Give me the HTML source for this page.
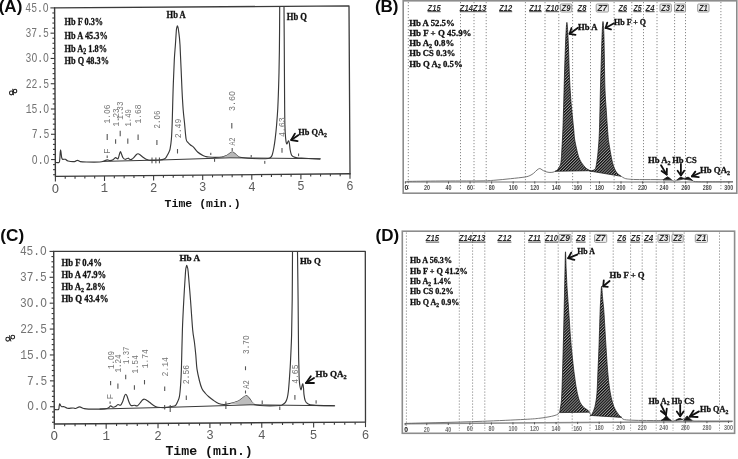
<!DOCTYPE html>
<html><head><meta charset="utf-8"><style>
html,body{margin:0;padding:0;background:#fff;}
svg{display:block;filter:blur(0.35px);}
</style></head><body>
<svg width="738" height="459" viewBox="0 0 738 459">
<defs><pattern id="hatch" patternUnits="userSpaceOnUse" width="2.05" height="8" patternTransform="rotate(45)"><rect width="2.05" height="8" fill="#9c9c9c"/><rect width="1.12" height="8" fill="#0a0a0a"/></pattern></defs>
<rect width="738" height="459" fill="#fff"/>
<path d="M54.6,7.9 L349,5.9 L350,173.8" stroke="#3a3a3a" stroke-width="1.3" fill="none" stroke-linejoin="round" stroke-linecap="round" />
<path d="M54.6,7.9 L55.4,176.4 L350,173.8" stroke="#3a3a3a" stroke-width="1.4" fill="none" stroke-linejoin="round" stroke-linecap="round" />
<line x1="53.09" y1="174.72" x2="55.39" y2="174.72" stroke="#3a3a3a" stroke-width="1.1" />
<line x1="53.07" y1="169.66" x2="55.37" y2="169.66" stroke="#3a3a3a" stroke-width="1.1" />
<line x1="53.04" y1="164.61" x2="55.34" y2="164.61" stroke="#3a3a3a" stroke-width="1.1" />
<line x1="51.12" y1="159.55" x2="55.32" y2="159.55" stroke="#3a3a3a" stroke-width="1.1" />
<line x1="53" y1="154.5" x2="55.3" y2="154.5" stroke="#3a3a3a" stroke-width="1.1" />
<line x1="52.97" y1="149.44" x2="55.27" y2="149.44" stroke="#3a3a3a" stroke-width="1.1" />
<line x1="52.95" y1="144.39" x2="55.25" y2="144.39" stroke="#3a3a3a" stroke-width="1.1" />
<line x1="52.92" y1="139.33" x2="55.22" y2="139.33" stroke="#3a3a3a" stroke-width="1.1" />
<line x1="51" y1="134.28" x2="55.2" y2="134.28" stroke="#3a3a3a" stroke-width="1.1" />
<line x1="52.88" y1="129.22" x2="55.18" y2="129.22" stroke="#3a3a3a" stroke-width="1.1" />
<line x1="52.85" y1="124.16" x2="55.15" y2="124.16" stroke="#3a3a3a" stroke-width="1.1" />
<line x1="52.83" y1="119.11" x2="55.13" y2="119.11" stroke="#3a3a3a" stroke-width="1.1" />
<line x1="52.8" y1="114.06" x2="55.1" y2="114.06" stroke="#3a3a3a" stroke-width="1.1" />
<line x1="50.88" y1="109" x2="55.08" y2="109" stroke="#3a3a3a" stroke-width="1.1" />
<line x1="52.76" y1="103.94" x2="55.06" y2="103.94" stroke="#3a3a3a" stroke-width="1.1" />
<line x1="52.73" y1="98.89" x2="55.03" y2="98.89" stroke="#3a3a3a" stroke-width="1.1" />
<line x1="52.71" y1="93.83" x2="55.01" y2="93.83" stroke="#3a3a3a" stroke-width="1.1" />
<line x1="52.68" y1="88.78" x2="54.98" y2="88.78" stroke="#3a3a3a" stroke-width="1.1" />
<line x1="50.76" y1="83.73" x2="54.96" y2="83.73" stroke="#3a3a3a" stroke-width="1.1" />
<line x1="52.64" y1="78.67" x2="54.94" y2="78.67" stroke="#3a3a3a" stroke-width="1.1" />
<line x1="52.61" y1="73.62" x2="54.91" y2="73.62" stroke="#3a3a3a" stroke-width="1.1" />
<line x1="52.59" y1="68.56" x2="54.89" y2="68.56" stroke="#3a3a3a" stroke-width="1.1" />
<line x1="52.56" y1="63.51" x2="54.86" y2="63.51" stroke="#3a3a3a" stroke-width="1.1" />
<line x1="50.64" y1="58.45" x2="54.84" y2="58.45" stroke="#3a3a3a" stroke-width="1.1" />
<line x1="52.52" y1="53.4" x2="54.82" y2="53.4" stroke="#3a3a3a" stroke-width="1.1" />
<line x1="52.49" y1="48.34" x2="54.79" y2="48.34" stroke="#3a3a3a" stroke-width="1.1" />
<line x1="52.47" y1="43.28" x2="54.77" y2="43.28" stroke="#3a3a3a" stroke-width="1.1" />
<line x1="52.44" y1="38.23" x2="54.74" y2="38.23" stroke="#3a3a3a" stroke-width="1.1" />
<line x1="50.52" y1="33.17" x2="54.72" y2="33.17" stroke="#3a3a3a" stroke-width="1.1" />
<line x1="52.4" y1="28.12" x2="54.7" y2="28.12" stroke="#3a3a3a" stroke-width="1.1" />
<line x1="52.37" y1="23.07" x2="54.67" y2="23.07" stroke="#3a3a3a" stroke-width="1.1" />
<line x1="52.35" y1="18.01" x2="54.65" y2="18.01" stroke="#3a3a3a" stroke-width="1.1" />
<line x1="52.32" y1="12.96" x2="54.62" y2="12.96" stroke="#3a3a3a" stroke-width="1.1" />
<line x1="50.4" y1="7.9" x2="54.6" y2="7.9" stroke="#3a3a3a" stroke-width="1.1" />
<line x1="55.4" y1="176.4" x2="55.4" y2="181.4" stroke="#3a3a3a" stroke-width="1.1" />
<line x1="65.22" y1="176.31" x2="65.22" y2="178.71" stroke="#3a3a3a" stroke-width="1.1" />
<line x1="75.04" y1="176.23" x2="75.04" y2="178.63" stroke="#3a3a3a" stroke-width="1.1" />
<line x1="84.86" y1="176.14" x2="84.86" y2="178.54" stroke="#3a3a3a" stroke-width="1.1" />
<line x1="94.68" y1="176.05" x2="94.68" y2="178.45" stroke="#3a3a3a" stroke-width="1.1" />
<line x1="104.5" y1="175.97" x2="104.5" y2="180.97" stroke="#3a3a3a" stroke-width="1.1" />
<line x1="114.32" y1="175.88" x2="114.32" y2="178.28" stroke="#3a3a3a" stroke-width="1.1" />
<line x1="124.14" y1="175.79" x2="124.14" y2="178.19" stroke="#3a3a3a" stroke-width="1.1" />
<line x1="133.96" y1="175.71" x2="133.96" y2="178.11" stroke="#3a3a3a" stroke-width="1.1" />
<line x1="143.78" y1="175.62" x2="143.78" y2="178.02" stroke="#3a3a3a" stroke-width="1.1" />
<line x1="153.6" y1="175.53" x2="153.6" y2="180.53" stroke="#3a3a3a" stroke-width="1.1" />
<line x1="163.42" y1="175.45" x2="163.42" y2="177.85" stroke="#3a3a3a" stroke-width="1.1" />
<line x1="173.24" y1="175.36" x2="173.24" y2="177.76" stroke="#3a3a3a" stroke-width="1.1" />
<line x1="183.06" y1="175.27" x2="183.06" y2="177.67" stroke="#3a3a3a" stroke-width="1.1" />
<line x1="192.88" y1="175.19" x2="192.88" y2="177.59" stroke="#3a3a3a" stroke-width="1.1" />
<line x1="202.7" y1="175.1" x2="202.7" y2="180.1" stroke="#3a3a3a" stroke-width="1.1" />
<line x1="212.52" y1="175.01" x2="212.52" y2="177.41" stroke="#3a3a3a" stroke-width="1.1" />
<line x1="222.34" y1="174.93" x2="222.34" y2="177.33" stroke="#3a3a3a" stroke-width="1.1" />
<line x1="232.16" y1="174.84" x2="232.16" y2="177.24" stroke="#3a3a3a" stroke-width="1.1" />
<line x1="241.98" y1="174.75" x2="241.98" y2="177.15" stroke="#3a3a3a" stroke-width="1.1" />
<line x1="251.8" y1="174.67" x2="251.8" y2="179.67" stroke="#3a3a3a" stroke-width="1.1" />
<line x1="261.62" y1="174.58" x2="261.62" y2="176.98" stroke="#3a3a3a" stroke-width="1.1" />
<line x1="271.44" y1="174.49" x2="271.44" y2="176.89" stroke="#3a3a3a" stroke-width="1.1" />
<line x1="281.26" y1="174.41" x2="281.26" y2="176.81" stroke="#3a3a3a" stroke-width="1.1" />
<line x1="291.08" y1="174.32" x2="291.08" y2="176.72" stroke="#3a3a3a" stroke-width="1.1" />
<line x1="300.9" y1="174.23" x2="300.9" y2="179.23" stroke="#3a3a3a" stroke-width="1.1" />
<line x1="310.72" y1="174.15" x2="310.72" y2="176.55" stroke="#3a3a3a" stroke-width="1.1" />
<line x1="320.54" y1="174.06" x2="320.54" y2="176.46" stroke="#3a3a3a" stroke-width="1.1" />
<line x1="330.36" y1="173.97" x2="330.36" y2="176.37" stroke="#3a3a3a" stroke-width="1.1" />
<line x1="340.18" y1="173.89" x2="340.18" y2="176.29" stroke="#3a3a3a" stroke-width="1.1" />
<line x1="350" y1="173.8" x2="350" y2="178.8" stroke="#3a3a3a" stroke-width="1.1" />
<text x="48.7" y="11.9" font-family="'Liberation Mono', monospace" font-size="13" font-weight="normal" fill="#747474" text-anchor="end" textLength="23.4" lengthAdjust="spacingAndGlyphs" >45.O</text>
<text x="48.82" y="37.17" font-family="'Liberation Mono', monospace" font-size="13" font-weight="normal" fill="#747474" text-anchor="end" textLength="23.4" lengthAdjust="spacingAndGlyphs" >37.5</text>
<text x="48.94" y="62.45" font-family="'Liberation Mono', monospace" font-size="13" font-weight="normal" fill="#747474" text-anchor="end" textLength="23.4" lengthAdjust="spacingAndGlyphs" >3O.O</text>
<text x="49.06" y="87.73" font-family="'Liberation Mono', monospace" font-size="13" font-weight="normal" fill="#747474" text-anchor="end" textLength="23.4" lengthAdjust="spacingAndGlyphs" >22.5</text>
<text x="49.18" y="113" font-family="'Liberation Mono', monospace" font-size="13" font-weight="normal" fill="#747474" text-anchor="end" textLength="23.4" lengthAdjust="spacingAndGlyphs" >15.O</text>
<text x="49.3" y="138.28" font-family="'Liberation Mono', monospace" font-size="13" font-weight="normal" fill="#747474" text-anchor="end" textLength="17.55" lengthAdjust="spacingAndGlyphs" >7.5</text>
<text x="49.42" y="163.55" font-family="'Liberation Mono', monospace" font-size="13" font-weight="normal" fill="#747474" text-anchor="end" textLength="17.55" lengthAdjust="spacingAndGlyphs" >O.O</text>
<text x="55.4" y="192.5" font-family="'Liberation Mono', monospace" font-size="12.2" font-weight="normal" fill="#5c5c5c" text-anchor="middle" >O</text>
<text x="104.5" y="192.07" font-family="'Liberation Mono', monospace" font-size="12.2" font-weight="normal" fill="#5c5c5c" text-anchor="middle" >1</text>
<text x="153.6" y="191.63" font-family="'Liberation Mono', monospace" font-size="12.2" font-weight="normal" fill="#5c5c5c" text-anchor="middle" >2</text>
<text x="202.7" y="191.2" font-family="'Liberation Mono', monospace" font-size="12.2" font-weight="normal" fill="#5c5c5c" text-anchor="middle" >3</text>
<text x="251.8" y="190.77" font-family="'Liberation Mono', monospace" font-size="12.2" font-weight="normal" fill="#5c5c5c" text-anchor="middle" >4</text>
<text x="300.9" y="190.33" font-family="'Liberation Mono', monospace" font-size="12.2" font-weight="normal" fill="#5c5c5c" text-anchor="middle" >5</text>
<text x="350" y="189.9" font-family="'Liberation Mono', monospace" font-size="12.2" font-weight="normal" fill="#5c5c5c" text-anchor="middle" >6</text>
<text x="164.6" y="206.9" font-family="'Liberation Mono', monospace" font-size="11.5" font-weight="bold" fill="#111" text-anchor="start" textLength="76" lengthAdjust="spacingAndGlyphs" >Time (min.)</text>
<ellipse cx="11.2" cy="92.9" rx="1.7" ry="1.95" fill="none" stroke="#1e1e1e" stroke-width="1.05"/>
<ellipse cx="15.1" cy="91.1" rx="1.7" ry="1.8" fill="none" stroke="#1e1e1e" stroke-width="1.05"/>
<line x1="12.7" y1="88.8" x2="13.5" y2="95.2" stroke="#1e1e1e" stroke-width="1.0" />
<text x="64.6" y="25.2" font-family="'Liberation Serif', serif" font-size="10.5" font-weight="bold" fill="#111" text-anchor="start" textLength="38.5" lengthAdjust="spacingAndGlyphs"  stroke="#111" stroke-width="0.3">Hb F 0.3%</text>
<text x="64.6" y="38.7" font-family="'Liberation Serif', serif" font-size="10.5" font-weight="bold" fill="#111" text-anchor="start" textLength="43.1" lengthAdjust="spacingAndGlyphs"  stroke="#111" stroke-width="0.3">Hb A 45.3%</text>
<text x="64.6" y="51.9" font-family="'Liberation Serif', serif" font-size="10.5" font-weight="bold" fill="#111" text-anchor="start" textLength="42.4" lengthAdjust="spacingAndGlyphs"  stroke="#111" stroke-width="0.3">Hb A<tspan font-size="7.35" dy="2.31">2</tspan><tspan dy="-2.31"> 1.8%</tspan></text>
<text x="64.6" y="64.3" font-family="'Liberation Serif', serif" font-size="10.5" font-weight="bold" fill="#111" text-anchor="start" textLength="44.4" lengthAdjust="spacingAndGlyphs"  stroke="#111" stroke-width="0.3">Hb Q 48.3%</text>
<path d="M55.5,162.4 C56.03,162.43 58.02,162.83 58.7,162.6 C59.38,162.37 59.35,162.6 59.6,161 C59.85,159.4 60.03,154.88 60.2,153 C60.37,151.12 60.45,149.7 60.6,149.7 C60.75,149.7 60.93,151.77 61.1,153 C61.27,154.23 61.37,156.07 61.6,157.1 C61.83,158.13 61.87,158.83 62.5,159.2 C63.13,159.57 64.48,159 65.4,159.3 C66.32,159.6 66.5,160.62 68,161 C69.5,161.38 72.83,161.72 74.4,161.6 C75.97,161.48 76.42,160.3 77.4,160.3 C78.38,160.3 78.82,161.32 80.3,161.6 C81.78,161.88 83.07,161.93 86.3,162 C89.53,162.07 96.85,162.12 99.7,162 C102.55,161.88 102.15,161.65 103.4,161.3 C104.65,160.95 106.1,160.02 107.2,159.9 C108.3,159.78 109.03,160.62 110,160.6 C110.97,160.58 112.08,160.3 113,159.8 C113.92,159.3 114.67,157.77 115.5,157.6 C116.33,157.43 117.33,159.4 118,158.8 C118.67,158.2 119.08,155.22 119.5,154 C119.92,152.78 120.17,151.5 120.5,151.5 C120.83,151.5 121.08,152.95 121.5,154 C121.92,155.05 122.42,156.92 123,157.8 C123.58,158.68 124.17,159.23 125,159.3 C125.83,159.37 127.25,158.22 128,158.2 C128.75,158.18 128.92,159 129.5,159.2 C130.08,159.4 130.75,159.72 131.5,159.4 C132.25,159.08 133.17,158.12 134,157.3 C134.83,156.48 135.83,155.08 136.5,154.5 C137.17,153.92 137.42,153.75 138,153.8 C138.58,153.85 139.17,154.23 140,154.8 C140.83,155.37 142,156.47 143,157.2 C144,157.93 145,158.7 146,159.2 C147,159.7 147.5,160.02 149,160.2 C150.5,160.38 153.17,160.33 155,160.3 C156.83,160.27 158.62,160.15 160,160 C161.38,159.85 162.38,159.7 163.3,159.4 C164.22,159.1 164.83,158.88 165.5,158.2 C166.17,157.52 166.72,156.33 167.3,155.3 C167.88,154.27 168.53,153.08 169,152 C169.47,150.92 169.7,150.97 170.1,148.8 C170.5,146.63 171.05,143.35 171.4,139 C171.75,134.65 171.92,130.87 172.2,122.7 C172.48,114.53 172.75,100.45 173.1,90 C173.45,79.55 173.92,67.53 174.3,60 C174.68,52.47 175.07,49.63 175.4,44.8 C175.73,39.97 176.07,33.88 176.3,31 C176.53,28.12 176.62,28.35 176.8,27.5 C176.98,26.65 177.2,25.9 177.4,25.9 C177.6,25.9 177.8,26.65 178,27.5 C178.2,28.35 178.27,28.12 178.6,31 C178.93,33.88 179.43,34.97 180,44.8 C180.57,54.63 181.47,79.13 182,90 C182.53,100.87 182.78,104.55 183.2,110 C183.62,115.45 184.02,117.87 184.5,122.7 C184.98,127.53 185.52,135.7 186.1,139 C186.68,142.3 187.27,141.5 188,142.5 C188.73,143.5 189.58,144.23 190.5,145 C191.42,145.77 192.32,145.93 193.5,147.1 C194.68,148.27 196.03,150.6 197.6,152 C199.17,153.4 201.5,154.73 202.9,155.5 C204.3,156.27 205.02,156.35 206,156.6 C206.98,156.85 207.3,156.88 208.8,157 C210.3,157.12 212.8,157.3 215,157.3 C217.2,157.3 220.17,157.25 222,157 C223.83,156.75 224.83,156.3 226,155.8 C227.17,155.3 227.97,154.62 229,154 C230.03,153.38 231.2,152.13 232.2,152.1 C233.2,152.07 234.12,153.15 235,153.8 C235.88,154.45 236.67,155.42 237.5,156 C238.33,156.58 238.25,156.92 240,157.3 C241.75,157.68 244.67,158.07 248,158.3 C251.33,158.53 256.67,158.67 260,158.7 C263.33,158.73 266.25,158.7 268,158.5 C269.75,158.3 269.8,158.08 270.5,157.5 C271.2,156.92 271.65,156.58 272.2,155 C272.75,153.42 273.3,150.73 273.8,148 C274.3,145.27 274.73,142.43 275.2,138.6 C275.67,134.77 276.17,130.1 276.6,125 C277.03,119.9 277.43,115.5 277.8,108 C278.17,100.5 278.53,89.67 278.8,80 C279.07,70.33 279.25,62.23 279.4,50 C279.55,37.77 279.65,13.83 279.7,6.6" stroke="#383838" stroke-width="1.15" fill="none" stroke-linejoin="round" />
<path d="M284,6.4 C284.05,13.67 284.2,34.4 284.3,50 C284.4,65.6 284.5,87.5 284.6,100 C284.7,112.5 284.73,118.67 284.9,125 C285.07,131.33 285.32,134.87 285.6,138 C285.88,141.13 286.27,143.05 286.6,143.8 C286.93,144.55 287.27,143 287.6,142.5 C287.93,142 288.3,140.63 288.6,140.8 C288.9,140.97 289.13,141.97 289.4,143.5 C289.67,145.03 289.85,148.08 290.2,150 C290.55,151.92 290.95,153.87 291.5,155 C292.05,156.13 292.58,156.33 293.5,156.8 C294.42,157.27 295.08,157.55 297,157.8 C298.92,158.05 301.12,158.07 305,158.3 C308.88,158.53 317.75,159.05 320.3,159.2" stroke="#383838" stroke-width="1.15" fill="none" stroke-linejoin="round" />
<path d="M222,157.2 C222.67,156.97 224.83,156.33 226,155.8 C227.17,155.27 227.97,154.62 229,154 C230.03,153.38 231.2,152.13 232.2,152.1 C233.2,152.07 234.12,153.15 235,153.8 C235.88,154.45 236.67,155.4 237.5,156 C238.33,156.6 241.08,157.13 240,157.4 C238.92,157.67 232.5,157.57 231,157.6 Z" stroke="none" stroke-width="0" fill="#b8b8b8" stroke-linejoin="round" />
<path d="M103,161.4 L160,160 L230,157.8 L320.3,158.7" stroke="#383838" stroke-width="1.0" fill="none" stroke-linejoin="round" stroke-linecap="round" />
<line x1="152" y1="157.5" x2="152" y2="163.3" stroke="#444" stroke-width="1.0" />
<line x1="155.9" y1="157.5" x2="155.9" y2="163.3" stroke="#444" stroke-width="1.0" />
<line x1="159.4" y1="157.5" x2="159.4" y2="163.3" stroke="#444" stroke-width="1.0" />
<line x1="210.8" y1="152.8" x2="210.8" y2="155" stroke="#444" stroke-width="1.0" />
<line x1="214.6" y1="158.9" x2="214.6" y2="161.8" stroke="#444" stroke-width="1.0" />
<line x1="251.2" y1="155" x2="251.2" y2="157.4" stroke="#444" stroke-width="1.0" />
<line x1="264.8" y1="160.9" x2="264.8" y2="163.8" stroke="#444" stroke-width="1.0" />
<line x1="298.6" y1="153.5" x2="298.6" y2="156.2" stroke="#444" stroke-width="1.0" />
<text x="110.26" y="114.05" font-family="'Liberation Mono', monospace" font-size="8.5" font-weight="normal" fill="#747474" text-anchor="middle" textLength="19.1" lengthAdjust="spacingAndGlyphs" transform="rotate(-90 110.26 114.05)" >1.O6</text>
<line x1="107.2" y1="133.9" x2="107.2" y2="140" stroke="#555" stroke-width="1.1" />
<text x="118.66" y="117.45" font-family="'Liberation Mono', monospace" font-size="8.5" font-weight="normal" fill="#747474" text-anchor="middle" textLength="18.3" lengthAdjust="spacingAndGlyphs" transform="rotate(-90 118.66 117.45)" >1.23</text>
<line x1="115.6" y1="139.2" x2="115.6" y2="143.8" stroke="#555" stroke-width="1.1" />
<text x="123.26" y="110.65" font-family="'Liberation Mono', monospace" font-size="8.5" font-weight="normal" fill="#747474" text-anchor="middle" textLength="18.3" lengthAdjust="spacingAndGlyphs" transform="rotate(-90 123.26 110.65)" >1.33</text>
<line x1="120.2" y1="130.8" x2="120.2" y2="136.2" stroke="#555" stroke-width="1.1" />
<text x="130.86" y="117.85" font-family="'Liberation Mono', monospace" font-size="8.5" font-weight="normal" fill="#747474" text-anchor="middle" textLength="17.5" lengthAdjust="spacingAndGlyphs" transform="rotate(-90 130.86 117.85)" >1.49</text>
<line x1="127.8" y1="138.4" x2="127.8" y2="143.8" stroke="#555" stroke-width="1.1" />
<text x="141.16" y="114.05" font-family="'Liberation Mono', monospace" font-size="8.5" font-weight="normal" fill="#747474" text-anchor="middle" textLength="19.1" lengthAdjust="spacingAndGlyphs" transform="rotate(-90 141.16 114.05)" >1.68</text>
<line x1="138.1" y1="134.6" x2="138.1" y2="140" stroke="#555" stroke-width="1.1" />
<text x="159.96" y="119.5" font-family="'Liberation Mono', monospace" font-size="8.5" font-weight="normal" fill="#747474" text-anchor="middle" textLength="17.8" lengthAdjust="spacingAndGlyphs" transform="rotate(-90 159.96 119.5)" >2.O6</text>
<line x1="156.9" y1="140" x2="156.9" y2="145" stroke="#555" stroke-width="1.1" />
<text x="180.56" y="128.4" font-family="'Liberation Mono', monospace" font-size="8.5" font-weight="normal" fill="#747474" text-anchor="middle" textLength="19.6" lengthAdjust="spacingAndGlyphs" transform="rotate(-90 180.56 128.4)" >2.49</text>
<line x1="177.5" y1="149" x2="177.5" y2="153.5" stroke="#555" stroke-width="1.1" />
<text x="234.86" y="101.05" font-family="'Liberation Mono', monospace" font-size="8.5" font-weight="normal" fill="#747474" text-anchor="middle" textLength="20.1" lengthAdjust="spacingAndGlyphs" transform="rotate(-90 234.86 101.05)" >3.6O</text>
<line x1="231.8" y1="123" x2="231.8" y2="128.5" stroke="#555" stroke-width="1.1" />
<text x="285.06" y="127.15" font-family="'Liberation Mono', monospace" font-size="8.5" font-weight="normal" fill="#747474" text-anchor="middle" textLength="19.9" lengthAdjust="spacingAndGlyphs" transform="rotate(-90 285.06 127.15)" >4.63</text>
<line x1="282" y1="148" x2="282" y2="152.8" stroke="#555" stroke-width="1.1" />
<text x="235.26" y="141.6" font-family="'Liberation Mono', monospace" font-size="8.5" font-weight="normal" fill="#747474" text-anchor="middle" textLength="8" lengthAdjust="spacingAndGlyphs" transform="rotate(-90 235.26 141.6)" >A2</text>
<line x1="232.2" y1="148" x2="232.2" y2="151" stroke="#555" stroke-width="1.1" />
<text x="110.26" y="151.1" font-family="'Liberation Mono', monospace" font-size="8.5" font-weight="normal" fill="#747474" text-anchor="middle" textLength="5.8" lengthAdjust="spacingAndGlyphs" transform="rotate(-90 110.26 151.1)" >F</text>
<line x1="107.2" y1="155.6" x2="107.2" y2="158" stroke="#555" stroke-width="1.1" />
<text x="166.5" y="18.4" font-family="'Liberation Serif', serif" font-size="9.5" font-weight="bold" fill="#111" text-anchor="start" textLength="19.2" lengthAdjust="spacingAndGlyphs"  stroke="#111" stroke-width="0.3">Hb A</text>
<text x="286.8" y="20.3" font-family="'Liberation Serif', serif" font-size="9.5" font-weight="bold" fill="#111" text-anchor="start" textLength="20.2" lengthAdjust="spacingAndGlyphs"  stroke="#111" stroke-width="0.3">Hb Q</text>
<text x="298.3" y="134.8" font-family="'Liberation Serif', serif" font-size="9.1" font-weight="bold" fill="#111" text-anchor="start" textLength="28.6" lengthAdjust="spacingAndGlyphs"  stroke="#111" stroke-width="0.3">Hb QA<tspan font-size="6.3" dy="2.1">2</tspan></text>
<path d="M298.2,135.3 L291.2,140" stroke="#111" stroke-width="1.8" fill="none" stroke-linejoin="round" stroke-linecap="round" />
<path d="M294.9,133.6 L291.2,140 L297.6,141.2" stroke="#111" stroke-width="1.8" fill="none" stroke-linejoin="round" stroke-linecap="round" />
<path d="M53.7,251.4 L365.3,251.3 L365.5,422.1" stroke="#3a3a3a" stroke-width="1.3" fill="none" stroke-linejoin="round" stroke-linecap="round" />
<path d="M53.7,251.4 L54.3,424 L365.5,422.1" stroke="#3a3a3a" stroke-width="1.4" fill="none" stroke-linejoin="round" stroke-linecap="round" />
<line x1="51.99" y1="422.27" x2="54.29" y2="422.27" stroke="#3a3a3a" stroke-width="1.1" />
<line x1="51.98" y1="417.1" x2="54.28" y2="417.1" stroke="#3a3a3a" stroke-width="1.1" />
<line x1="51.96" y1="411.92" x2="54.26" y2="411.92" stroke="#3a3a3a" stroke-width="1.1" />
<line x1="50.04" y1="406.74" x2="54.24" y2="406.74" stroke="#3a3a3a" stroke-width="1.1" />
<line x1="51.92" y1="401.56" x2="54.22" y2="401.56" stroke="#3a3a3a" stroke-width="1.1" />
<line x1="51.9" y1="396.38" x2="54.2" y2="396.38" stroke="#3a3a3a" stroke-width="1.1" />
<line x1="51.89" y1="391.21" x2="54.19" y2="391.21" stroke="#3a3a3a" stroke-width="1.1" />
<line x1="51.87" y1="386.03" x2="54.17" y2="386.03" stroke="#3a3a3a" stroke-width="1.1" />
<line x1="49.95" y1="380.85" x2="54.15" y2="380.85" stroke="#3a3a3a" stroke-width="1.1" />
<line x1="51.83" y1="375.67" x2="54.13" y2="375.67" stroke="#3a3a3a" stroke-width="1.1" />
<line x1="51.81" y1="370.49" x2="54.11" y2="370.49" stroke="#3a3a3a" stroke-width="1.1" />
<line x1="51.8" y1="365.32" x2="54.1" y2="365.32" stroke="#3a3a3a" stroke-width="1.1" />
<line x1="51.78" y1="360.14" x2="54.08" y2="360.14" stroke="#3a3a3a" stroke-width="1.1" />
<line x1="49.86" y1="354.96" x2="54.06" y2="354.96" stroke="#3a3a3a" stroke-width="1.1" />
<line x1="51.74" y1="349.78" x2="54.04" y2="349.78" stroke="#3a3a3a" stroke-width="1.1" />
<line x1="51.72" y1="344.6" x2="54.02" y2="344.6" stroke="#3a3a3a" stroke-width="1.1" />
<line x1="51.71" y1="339.43" x2="54.01" y2="339.43" stroke="#3a3a3a" stroke-width="1.1" />
<line x1="51.69" y1="334.25" x2="53.99" y2="334.25" stroke="#3a3a3a" stroke-width="1.1" />
<line x1="49.77" y1="329.07" x2="53.97" y2="329.07" stroke="#3a3a3a" stroke-width="1.1" />
<line x1="51.65" y1="323.89" x2="53.95" y2="323.89" stroke="#3a3a3a" stroke-width="1.1" />
<line x1="51.63" y1="318.71" x2="53.93" y2="318.71" stroke="#3a3a3a" stroke-width="1.1" />
<line x1="51.62" y1="313.54" x2="53.92" y2="313.54" stroke="#3a3a3a" stroke-width="1.1" />
<line x1="51.6" y1="308.36" x2="53.9" y2="308.36" stroke="#3a3a3a" stroke-width="1.1" />
<line x1="49.68" y1="303.18" x2="53.88" y2="303.18" stroke="#3a3a3a" stroke-width="1.1" />
<line x1="51.56" y1="298" x2="53.86" y2="298" stroke="#3a3a3a" stroke-width="1.1" />
<line x1="51.54" y1="292.82" x2="53.84" y2="292.82" stroke="#3a3a3a" stroke-width="1.1" />
<line x1="51.53" y1="287.65" x2="53.83" y2="287.65" stroke="#3a3a3a" stroke-width="1.1" />
<line x1="51.51" y1="282.47" x2="53.81" y2="282.47" stroke="#3a3a3a" stroke-width="1.1" />
<line x1="49.59" y1="277.29" x2="53.79" y2="277.29" stroke="#3a3a3a" stroke-width="1.1" />
<line x1="51.47" y1="272.11" x2="53.77" y2="272.11" stroke="#3a3a3a" stroke-width="1.1" />
<line x1="51.45" y1="266.93" x2="53.75" y2="266.93" stroke="#3a3a3a" stroke-width="1.1" />
<line x1="51.44" y1="261.76" x2="53.74" y2="261.76" stroke="#3a3a3a" stroke-width="1.1" />
<line x1="51.42" y1="256.58" x2="53.72" y2="256.58" stroke="#3a3a3a" stroke-width="1.1" />
<line x1="49.5" y1="251.4" x2="53.7" y2="251.4" stroke="#3a3a3a" stroke-width="1.1" />
<line x1="54.3" y1="424" x2="54.3" y2="429" stroke="#3a3a3a" stroke-width="1.1" />
<line x1="64.67" y1="423.94" x2="64.67" y2="426.34" stroke="#3a3a3a" stroke-width="1.1" />
<line x1="75.05" y1="423.87" x2="75.05" y2="426.27" stroke="#3a3a3a" stroke-width="1.1" />
<line x1="85.42" y1="423.81" x2="85.42" y2="426.21" stroke="#3a3a3a" stroke-width="1.1" />
<line x1="95.79" y1="423.75" x2="95.79" y2="426.15" stroke="#3a3a3a" stroke-width="1.1" />
<line x1="106.17" y1="423.68" x2="106.17" y2="428.68" stroke="#3a3a3a" stroke-width="1.1" />
<line x1="116.54" y1="423.62" x2="116.54" y2="426.02" stroke="#3a3a3a" stroke-width="1.1" />
<line x1="126.91" y1="423.56" x2="126.91" y2="425.96" stroke="#3a3a3a" stroke-width="1.1" />
<line x1="137.29" y1="423.49" x2="137.29" y2="425.89" stroke="#3a3a3a" stroke-width="1.1" />
<line x1="147.66" y1="423.43" x2="147.66" y2="425.83" stroke="#3a3a3a" stroke-width="1.1" />
<line x1="158.03" y1="423.37" x2="158.03" y2="428.37" stroke="#3a3a3a" stroke-width="1.1" />
<line x1="168.41" y1="423.3" x2="168.41" y2="425.7" stroke="#3a3a3a" stroke-width="1.1" />
<line x1="178.78" y1="423.24" x2="178.78" y2="425.64" stroke="#3a3a3a" stroke-width="1.1" />
<line x1="189.15" y1="423.18" x2="189.15" y2="425.58" stroke="#3a3a3a" stroke-width="1.1" />
<line x1="199.53" y1="423.11" x2="199.53" y2="425.51" stroke="#3a3a3a" stroke-width="1.1" />
<line x1="209.9" y1="423.05" x2="209.9" y2="428.05" stroke="#3a3a3a" stroke-width="1.1" />
<line x1="220.27" y1="422.99" x2="220.27" y2="425.39" stroke="#3a3a3a" stroke-width="1.1" />
<line x1="230.65" y1="422.92" x2="230.65" y2="425.32" stroke="#3a3a3a" stroke-width="1.1" />
<line x1="241.02" y1="422.86" x2="241.02" y2="425.26" stroke="#3a3a3a" stroke-width="1.1" />
<line x1="251.39" y1="422.8" x2="251.39" y2="425.2" stroke="#3a3a3a" stroke-width="1.1" />
<line x1="261.77" y1="422.73" x2="261.77" y2="427.73" stroke="#3a3a3a" stroke-width="1.1" />
<line x1="272.14" y1="422.67" x2="272.14" y2="425.07" stroke="#3a3a3a" stroke-width="1.1" />
<line x1="282.51" y1="422.61" x2="282.51" y2="425.01" stroke="#3a3a3a" stroke-width="1.1" />
<line x1="292.89" y1="422.54" x2="292.89" y2="424.94" stroke="#3a3a3a" stroke-width="1.1" />
<line x1="303.26" y1="422.48" x2="303.26" y2="424.88" stroke="#3a3a3a" stroke-width="1.1" />
<line x1="313.63" y1="422.42" x2="313.63" y2="427.42" stroke="#3a3a3a" stroke-width="1.1" />
<line x1="324.01" y1="422.35" x2="324.01" y2="424.75" stroke="#3a3a3a" stroke-width="1.1" />
<line x1="334.38" y1="422.29" x2="334.38" y2="424.69" stroke="#3a3a3a" stroke-width="1.1" />
<line x1="344.75" y1="422.23" x2="344.75" y2="424.63" stroke="#3a3a3a" stroke-width="1.1" />
<line x1="355.13" y1="422.16" x2="355.13" y2="424.56" stroke="#3a3a3a" stroke-width="1.1" />
<line x1="365.5" y1="422.1" x2="365.5" y2="427.1" stroke="#3a3a3a" stroke-width="1.1" />
<text x="46.7" y="255.1" font-family="'Liberation Mono', monospace" font-size="13.2" font-weight="normal" fill="#747474" text-anchor="end" textLength="26.8" lengthAdjust="spacingAndGlyphs" >45.O</text>
<text x="46.79" y="280.99" font-family="'Liberation Mono', monospace" font-size="13.2" font-weight="normal" fill="#747474" text-anchor="end" textLength="26.8" lengthAdjust="spacingAndGlyphs" >37.5</text>
<text x="46.88" y="306.88" font-family="'Liberation Mono', monospace" font-size="13.2" font-weight="normal" fill="#747474" text-anchor="end" textLength="26.8" lengthAdjust="spacingAndGlyphs" >3O.O</text>
<text x="46.97" y="332.77" font-family="'Liberation Mono', monospace" font-size="13.2" font-weight="normal" fill="#747474" text-anchor="end" textLength="26.8" lengthAdjust="spacingAndGlyphs" >22.5</text>
<text x="47.06" y="358.66" font-family="'Liberation Mono', monospace" font-size="13.2" font-weight="normal" fill="#747474" text-anchor="end" textLength="26.8" lengthAdjust="spacingAndGlyphs" >15.O</text>
<text x="47.15" y="384.55" font-family="'Liberation Mono', monospace" font-size="13.2" font-weight="normal" fill="#747474" text-anchor="end" textLength="20.1" lengthAdjust="spacingAndGlyphs" >7.5</text>
<text x="47.24" y="410.44" font-family="'Liberation Mono', monospace" font-size="13.2" font-weight="normal" fill="#747474" text-anchor="end" textLength="20.1" lengthAdjust="spacingAndGlyphs" >O.O</text>
<text x="54.3" y="440.4" font-family="'Liberation Mono', monospace" font-size="12.5" font-weight="normal" fill="#5c5c5c" text-anchor="middle" >O</text>
<text x="106.17" y="440.08" font-family="'Liberation Mono', monospace" font-size="12.5" font-weight="normal" fill="#5c5c5c" text-anchor="middle" >1</text>
<text x="158.03" y="439.77" font-family="'Liberation Mono', monospace" font-size="12.5" font-weight="normal" fill="#5c5c5c" text-anchor="middle" >2</text>
<text x="209.9" y="439.45" font-family="'Liberation Mono', monospace" font-size="12.5" font-weight="normal" fill="#5c5c5c" text-anchor="middle" >3</text>
<text x="261.77" y="439.13" font-family="'Liberation Mono', monospace" font-size="12.5" font-weight="normal" fill="#5c5c5c" text-anchor="middle" >4</text>
<text x="313.63" y="438.82" font-family="'Liberation Mono', monospace" font-size="12.5" font-weight="normal" fill="#5c5c5c" text-anchor="middle" >5</text>
<text x="365.5" y="438.5" font-family="'Liberation Mono', monospace" font-size="12.5" font-weight="normal" fill="#5c5c5c" text-anchor="middle" >6</text>
<text x="165.4" y="455.1" font-family="'Liberation Mono', monospace" font-size="12.2" font-weight="bold" fill="#111" text-anchor="start" textLength="87.4" lengthAdjust="spacingAndGlyphs" >Time (min.)</text>
<ellipse cx="7.7" cy="339.2" rx="1.85" ry="1.9" fill="none" stroke="#1e1e1e" stroke-width="1.05"/>
<ellipse cx="12.8" cy="337.1" rx="1.85" ry="1.8" fill="none" stroke="#1e1e1e" stroke-width="1.05"/>
<line x1="9.4" y1="335.3" x2="10.9" y2="341.4" stroke="#1e1e1e" stroke-width="1.0" />
<text x="61.5" y="265.9" font-family="'Liberation Serif', serif" font-size="9.8" font-weight="bold" fill="#111" text-anchor="start" textLength="40.3" lengthAdjust="spacingAndGlyphs"  stroke="#111" stroke-width="0.3">Hb F 0.4%</text>
<text x="61.5" y="277.9" font-family="'Liberation Serif', serif" font-size="9.8" font-weight="bold" fill="#111" text-anchor="start" textLength="44.7" lengthAdjust="spacingAndGlyphs"  stroke="#111" stroke-width="0.3">Hb A 47.9%</text>
<text x="61.5" y="289.9" font-family="'Liberation Serif', serif" font-size="9.8" font-weight="bold" fill="#111" text-anchor="start" textLength="44.2" lengthAdjust="spacingAndGlyphs"  stroke="#111" stroke-width="0.3">Hb A<tspan font-size="6.86" dy="2.16">2</tspan><tspan dy="-2.16"> 2.8%</tspan></text>
<text x="61.5" y="301.9" font-family="'Liberation Serif', serif" font-size="9.8" font-weight="bold" fill="#111" text-anchor="start" textLength="46.9" lengthAdjust="spacingAndGlyphs"  stroke="#111" stroke-width="0.3">Hb Q 43.4%</text>
<path d="M54.5,409.5 C55.17,409.5 57.72,410.08 58.5,409.5 C59.28,408.92 59,406.95 59.2,406 C59.4,405.05 59.47,403.88 59.7,403.8 C59.93,403.72 60.25,405.02 60.6,405.5 C60.95,405.98 61.2,406.5 61.8,406.7 C62.4,406.9 63.27,406.43 64.2,406.7 C65.13,406.97 65.92,408.08 67.4,408.3 C68.88,408.52 71.73,407.97 73.1,408 C74.47,408.03 74.52,408.68 75.6,408.5 C76.68,408.32 78.25,406.9 79.6,406.9 C80.95,406.9 82.2,408.13 83.7,408.5 C85.2,408.87 85.08,409.03 88.6,409.1 C92.12,409.17 101.42,409.17 104.8,408.9 C108.18,408.63 107.93,408 108.9,407.5 C109.87,407 109.92,405.95 110.6,405.9 C111.28,405.85 112.18,407.1 113,407.2 C113.82,407.3 114.67,406.95 115.5,406.5 C116.33,406.05 117.17,404.72 118,404.5 C118.83,404.28 119.75,405.62 120.5,405.2 C121.25,404.78 121.83,403.53 122.5,402 C123.17,400.47 123.97,397.3 124.5,396 C125.03,394.7 125.28,394.2 125.7,394.2 C126.12,394.2 126.45,394.7 127,396 C127.55,397.3 128.33,400.42 129,402 C129.67,403.58 130.1,404.95 131,405.5 C131.9,406.05 133.32,405.25 134.4,405.3 C135.48,405.35 136.57,406.18 137.5,405.8 C138.43,405.42 139.17,403.97 140,403 C140.83,402.03 141.75,400.63 142.5,400 C143.25,399.37 143.75,399.12 144.5,399.2 C145.25,399.28 145.92,399.78 147,400.5 C148.08,401.22 149.67,402.55 151,403.5 C152.33,404.45 153.83,405.57 155,406.2 C156.17,406.83 156.33,407.07 158,407.3 C159.67,407.53 162.73,407.73 165,407.6 C167.27,407.47 169.85,406.85 171.6,406.5 C173.35,406.15 174.52,406.25 175.5,405.5 C176.48,404.75 176.85,403.47 177.5,402 C178.15,400.53 178.88,399.53 179.4,396.7 C179.92,393.87 180.27,389.58 180.6,385 C180.93,380.42 181.1,378.37 181.4,369.2 C181.7,360.03 182,341.53 182.4,330 C182.8,318.47 183.28,309.67 183.8,300 C184.32,290.33 185.1,277.5 185.5,272 C185.9,266.5 186,268.12 186.2,267 C186.4,265.88 186.52,265.3 186.7,265.3 C186.88,265.3 187.05,265.88 187.3,267 C187.55,268.12 187.67,266.5 188.2,272 C188.73,277.5 189.75,290.33 190.5,300 C191.25,309.67 192.05,323 192.7,330 C193.35,337 193.88,337.83 194.4,342 C194.92,346.17 195.37,350.47 195.8,355 C196.23,359.53 196.38,364.87 197,369.2 C197.62,373.53 198.67,377.73 199.5,381 C200.33,384.27 201,386.72 202,388.8 C203,390.88 204.37,392.18 205.5,393.5 C206.63,394.82 207.55,395.62 208.8,396.7 C210.05,397.78 211.37,398.87 213,400 C214.63,401.13 216.77,402.75 218.6,403.5 C220.43,404.25 222.13,404.5 224,404.5 C225.87,404.5 228.13,403.83 229.8,403.5 C231.47,403.17 232.55,402.92 234,402.5 C235.45,402.08 237.17,401.67 238.5,401 C239.83,400.33 240.73,399.38 242,398.5 C243.27,397.62 244.93,395.78 246.1,395.7 C247.27,395.62 248.1,397.03 249,398 C249.9,398.97 250.62,400.42 251.5,401.5 C252.38,402.58 252.88,403.83 254.3,404.5 C255.72,405.17 257.38,405.28 260,405.5 C262.62,405.72 266.67,405.8 270,405.8 C273.33,405.8 277.93,405.67 280,405.5 C282.07,405.33 281.5,405.32 282.4,404.8 C283.3,404.28 284.6,403.5 285.4,402.4 C286.2,401.3 286.7,400.1 287.2,398.2 C287.7,396.3 288.03,394.2 288.4,391 C288.77,387.8 289.1,383 289.4,379 C289.7,375 289.97,371 290.2,367 C290.43,363 290.57,360.33 290.8,355 C291.03,349.67 291.37,344.17 291.6,335 C291.83,325.83 292.05,313.87 292.2,300 C292.35,286.13 292.45,259.83 292.5,251.8" stroke="#383838" stroke-width="1.15" fill="none" stroke-linejoin="round" />
<path d="M297.5,251.8 C297.6,259.83 297.95,286.13 298.1,300 C298.25,313.87 298.32,325.83 298.4,335 C298.48,344.17 298.52,349.67 298.6,355 C298.68,360.33 298.8,363 298.9,367 C299,371 299.03,375.83 299.2,379 C299.37,382.17 299.6,384.2 299.9,386 C300.2,387.8 300.65,389.8 301,389.8 C301.35,389.8 301.7,387 302,386 C302.3,385 302.55,383.47 302.8,383.8 C303.05,384.13 303.3,386.2 303.5,388 C303.7,389.8 303.72,392.5 304,394.6 C304.28,396.7 304.6,399.1 305.2,400.6 C305.8,402.1 306.2,402.85 307.6,403.6 C309,404.35 309.08,404.73 313.6,405.1 C318.12,405.47 331.18,405.68 334.7,405.8" stroke="#383838" stroke-width="1.15" fill="none" stroke-linejoin="round" />
<path d="M229.8,403.5 C230.5,403.33 232.55,402.92 234,402.5 C235.45,402.08 237.17,401.67 238.5,401 C239.83,400.33 240.73,399.38 242,398.5 C243.27,397.62 244.93,395.78 246.1,395.7 C247.27,395.62 248.1,397.03 249,398 C249.9,398.97 250.62,400.42 251.5,401.5 C252.38,402.58 256.22,403.95 254.3,404.5 C252.38,405.05 242.38,404.75 240,404.8 Z" stroke="none" stroke-width="0" fill="#bdbdbd" stroke-linejoin="round" />
<path d="M100,409 L170,407.3 L250,404.8 L334.7,405.8" stroke="#383838" stroke-width="1.0" fill="none" stroke-linejoin="round" stroke-linecap="round" />
<line x1="164.7" y1="405" x2="164.7" y2="409.5" stroke="#444" stroke-width="1.0" />
<line x1="170.2" y1="405" x2="170.2" y2="412" stroke="#444" stroke-width="1.0" />
<line x1="225.9" y1="401.5" x2="225.9" y2="406" stroke="#444" stroke-width="1.0" />
<line x1="225.9" y1="406" x2="225.9" y2="409" stroke="#444" stroke-width="1.0" />
<line x1="262.2" y1="400.5" x2="262.2" y2="404" stroke="#444" stroke-width="1.0" />
<line x1="279.8" y1="406.5" x2="279.8" y2="410" stroke="#444" stroke-width="1.0" />
<line x1="316.1" y1="400.3" x2="316.1" y2="403.6" stroke="#444" stroke-width="1.0" />
<text x="113.77" y="360" font-family="'Liberation Mono', monospace" font-size="8.8" font-weight="normal" fill="#747474" text-anchor="middle" textLength="18.2" lengthAdjust="spacingAndGlyphs" transform="rotate(-90 113.77 360)" >1.O9</text>
<line x1="110.6" y1="381" x2="110.6" y2="385.3" stroke="#555" stroke-width="1.1" />
<text x="121.07" y="363.5" font-family="'Liberation Mono', monospace" font-size="8.8" font-weight="normal" fill="#747474" text-anchor="middle" textLength="18.2" lengthAdjust="spacingAndGlyphs" transform="rotate(-90 121.07 363.5)" >1.24</text>
<line x1="117.9" y1="383.6" x2="117.9" y2="388.8" stroke="#555" stroke-width="1.1" />
<text x="128.87" y="355.25" font-family="'Liberation Mono', monospace" font-size="8.8" font-weight="normal" fill="#747474" text-anchor="middle" textLength="17.3" lengthAdjust="spacingAndGlyphs" transform="rotate(-90 128.87 355.25)" >1.37</text>
<line x1="125.7" y1="374.8" x2="125.7" y2="379.2" stroke="#555" stroke-width="1.1" />
<text x="137.57" y="364.4" font-family="'Liberation Mono', monospace" font-size="8.8" font-weight="normal" fill="#747474" text-anchor="middle" textLength="18.2" lengthAdjust="spacingAndGlyphs" transform="rotate(-90 137.57 364.4)" >1.54</text>
<line x1="134.4" y1="385.3" x2="134.4" y2="389.7" stroke="#555" stroke-width="1.1" />
<text x="147.67" y="358.75" font-family="'Liberation Mono', monospace" font-size="8.8" font-weight="normal" fill="#747474" text-anchor="middle" textLength="19.1" lengthAdjust="spacingAndGlyphs" transform="rotate(-90 147.67 358.75)" >1.74</text>
<line x1="144.5" y1="380" x2="144.5" y2="384.4" stroke="#555" stroke-width="1.1" />
<text x="167.87" y="366.75" font-family="'Liberation Mono', monospace" font-size="8.8" font-weight="normal" fill="#747474" text-anchor="middle" textLength="19.3" lengthAdjust="spacingAndGlyphs" transform="rotate(-90 167.87 366.75)" >2.14</text>
<line x1="164.7" y1="386.5" x2="164.7" y2="391" stroke="#555" stroke-width="1.1" />
<text x="189.47" y="374.6" font-family="'Liberation Mono', monospace" font-size="8.8" font-weight="normal" fill="#747474" text-anchor="middle" textLength="19.4" lengthAdjust="spacingAndGlyphs" transform="rotate(-90 189.47 374.6)" >2.56</text>
<line x1="186.3" y1="395.5" x2="186.3" y2="400" stroke="#555" stroke-width="1.1" />
<text x="248.67" y="344.7" font-family="'Liberation Mono', monospace" font-size="8.8" font-weight="normal" fill="#747474" text-anchor="middle" textLength="18.4" lengthAdjust="spacingAndGlyphs" transform="rotate(-90 248.67 344.7)" >3.7O</text>
<line x1="245.5" y1="366.3" x2="245.5" y2="370.2" stroke="#555" stroke-width="1.1" />
<text x="298.07" y="374.15" font-family="'Liberation Mono', monospace" font-size="8.8" font-weight="normal" fill="#747474" text-anchor="middle" textLength="19.3" lengthAdjust="spacingAndGlyphs" transform="rotate(-90 298.07 374.15)" >4.65</text>
<line x1="294.9" y1="394.9" x2="294.9" y2="399.8" stroke="#555" stroke-width="1.1" />
<text x="248.67" y="384.4" font-family="'Liberation Mono', monospace" font-size="8.8" font-weight="normal" fill="#747474" text-anchor="middle" textLength="8.5" lengthAdjust="spacingAndGlyphs" transform="rotate(-90 248.67 384.4)" >A2</text>
<line x1="245.5" y1="390.5" x2="245.5" y2="393.5" stroke="#555" stroke-width="1.1" />
<text x="113.27" y="396.5" font-family="'Liberation Mono', monospace" font-size="8.8" font-weight="normal" fill="#747474" text-anchor="middle" textLength="5.8" lengthAdjust="spacingAndGlyphs" transform="rotate(-90 113.27 396.5)" >F</text>
<line x1="110.1" y1="401.4" x2="110.1" y2="403.8" stroke="#555" stroke-width="1.1" />
<text x="179.4" y="261.4" font-family="'Liberation Serif', serif" font-size="9.2" font-weight="bold" fill="#111" text-anchor="start" textLength="20.6" lengthAdjust="spacingAndGlyphs"  stroke="#111" stroke-width="0.3">Hb A</text>
<text x="300" y="263.5" font-family="'Liberation Serif', serif" font-size="9.2" font-weight="bold" fill="#111" text-anchor="start" textLength="20.7" lengthAdjust="spacingAndGlyphs"  stroke="#111" stroke-width="0.3">Hb Q</text>
<text x="315.6" y="376.9" font-family="'Liberation Serif', serif" font-size="9.2" font-weight="bold" fill="#111" text-anchor="start" textLength="31" lengthAdjust="spacingAndGlyphs"  stroke="#111" stroke-width="0.3">Hb QA<tspan font-size="6.3" dy="2.1">2</tspan></text>
<path d="M314,378 L306,383" stroke="#111" stroke-width="1.8" fill="none" stroke-linejoin="round" stroke-linecap="round" />
<path d="M310.8,376.3 L306,383 L314,383" stroke="#111" stroke-width="1.8" fill="none" stroke-linejoin="round" stroke-linecap="round" />
<rect x="403.2" y="0.8" width="333.6" height="192.4" fill="none" stroke="#8c8c8c" stroke-width="1.6"/>
<line x1="408.3" y1="2" x2="408.3" y2="190.5" stroke="#8a8a8a" stroke-width="1.0" stroke-dasharray="1.2 1.8"/>
<line x1="460.5" y1="2" x2="460.5" y2="190.5" stroke="#8a8a8a" stroke-width="1.0" stroke-dasharray="1.2 1.8"/>
<line x1="474" y1="2" x2="474" y2="190.5" stroke="#8a8a8a" stroke-width="1.0" stroke-dasharray="1.2 1.8"/>
<line x1="486.2" y1="2" x2="486.2" y2="190.5" stroke="#8a8a8a" stroke-width="1.0" stroke-dasharray="1.2 1.8"/>
<line x1="525.4" y1="2" x2="525.4" y2="190.5" stroke="#8a8a8a" stroke-width="1.0" stroke-dasharray="1.2 1.8"/>
<line x1="545" y1="2" x2="545" y2="190.5" stroke="#8a8a8a" stroke-width="1.0" stroke-dasharray="1.2 1.8"/>
<line x1="558.8" y1="2" x2="558.8" y2="190.5" stroke="#8a8a8a" stroke-width="1.0" stroke-dasharray="1.2 1.8"/>
<line x1="572.6" y1="2" x2="572.6" y2="190.5" stroke="#8a8a8a" stroke-width="1.0" stroke-dasharray="1.2 1.8"/>
<line x1="590.5" y1="2" x2="590.5" y2="190.5" stroke="#8a8a8a" stroke-width="1.0" stroke-dasharray="1.2 1.8"/>
<line x1="614.1" y1="2" x2="614.1" y2="190.5" stroke="#8a8a8a" stroke-width="1.0" stroke-dasharray="1.2 1.8"/>
<line x1="631.8" y1="2" x2="631.8" y2="190.5" stroke="#8a8a8a" stroke-width="1.0" stroke-dasharray="1.2 1.8"/>
<line x1="643.5" y1="2" x2="643.5" y2="190.5" stroke="#8a8a8a" stroke-width="1.0" stroke-dasharray="1.2 1.8"/>
<line x1="657" y1="2" x2="657" y2="190.5" stroke="#8a8a8a" stroke-width="1.0" stroke-dasharray="1.2 1.8"/>
<line x1="674.6" y1="2" x2="674.6" y2="190.5" stroke="#8a8a8a" stroke-width="1.0" stroke-dasharray="1.2 1.8"/>
<line x1="685.5" y1="2" x2="685.5" y2="190.5" stroke="#8a8a8a" stroke-width="1.0" stroke-dasharray="1.2 1.8"/>
<line x1="720.9" y1="2" x2="720.9" y2="190.5" stroke="#8a8a8a" stroke-width="1.0" stroke-dasharray="1.2 1.8"/>
<text x="427.6" y="10.9" font-family="'Liberation Sans', sans-serif" font-size="8.2" font-weight="bold" fill="#2a2a2a" text-anchor="start" font-style="italic" textLength="13.1" lengthAdjust="spacingAndGlyphs" >Z15</text>
<line x1="427.6" y1="11.7" x2="440.7" y2="11.7" stroke="#333" stroke-width="0.9" />
<text x="459.8" y="10.9" font-family="'Liberation Sans', sans-serif" font-size="8.2" font-weight="bold" fill="#2a2a2a" text-anchor="start" font-style="italic" textLength="13.2" lengthAdjust="spacingAndGlyphs" >Z14</text>
<line x1="459.8" y1="11.7" x2="473" y2="11.7" stroke="#333" stroke-width="0.9" />
<text x="473" y="10.9" font-family="'Liberation Sans', sans-serif" font-size="8.2" font-weight="bold" fill="#2a2a2a" text-anchor="start" font-style="italic" textLength="13.2" lengthAdjust="spacingAndGlyphs" >Z13</text>
<line x1="473" y1="11.7" x2="486.2" y2="11.7" stroke="#333" stroke-width="0.9" />
<text x="499.2" y="10.9" font-family="'Liberation Sans', sans-serif" font-size="8.2" font-weight="bold" fill="#2a2a2a" text-anchor="start" font-style="italic" textLength="13" lengthAdjust="spacingAndGlyphs" >Z12</text>
<line x1="499.2" y1="11.7" x2="512.2" y2="11.7" stroke="#333" stroke-width="0.9" />
<text x="529.2" y="10.9" font-family="'Liberation Sans', sans-serif" font-size="8.2" font-weight="bold" fill="#2a2a2a" text-anchor="start" font-style="italic" textLength="12.5" lengthAdjust="spacingAndGlyphs" >Z11</text>
<line x1="529.2" y1="11.7" x2="541.7" y2="11.7" stroke="#333" stroke-width="0.9" />
<text x="545.8" y="10.9" font-family="'Liberation Sans', sans-serif" font-size="8.2" font-weight="bold" fill="#2a2a2a" text-anchor="start" font-style="italic" textLength="13" lengthAdjust="spacingAndGlyphs" >Z10</text>
<line x1="545.8" y1="11.7" x2="558.8" y2="11.7" stroke="#333" stroke-width="0.9" />
<rect x="560.4" y="4" width="11.4" height="8.0" rx="1" fill="#eeeeee" stroke="#9a9a9a" stroke-width="1.0"/>
<text x="561.6" y="10.8" font-family="'Liberation Sans', sans-serif" font-size="8.2" font-weight="bold" fill="#2a2a2a" text-anchor="start" font-style="italic" textLength="9" lengthAdjust="spacingAndGlyphs" >Z9</text>
<text x="577.5" y="10.9" font-family="'Liberation Sans', sans-serif" font-size="8.2" font-weight="bold" fill="#2a2a2a" text-anchor="start" font-style="italic" textLength="8.9" lengthAdjust="spacingAndGlyphs" >Z8</text>
<line x1="577.5" y1="11.7" x2="586.4" y2="11.7" stroke="#333" stroke-width="0.9" />
<rect x="596.2" y="4" width="12.2" height="8.0" rx="1" fill="#eeeeee" stroke="#9a9a9a" stroke-width="1.0"/>
<text x="597.4" y="10.8" font-family="'Liberation Sans', sans-serif" font-size="8.2" font-weight="bold" fill="#2a2a2a" text-anchor="start" font-style="italic" textLength="9.8" lengthAdjust="spacingAndGlyphs" >Z7</text>
<text x="618.4" y="10.9" font-family="'Liberation Sans', sans-serif" font-size="8.2" font-weight="bold" fill="#2a2a2a" text-anchor="start" font-style="italic" textLength="8.6" lengthAdjust="spacingAndGlyphs" >Z6</text>
<line x1="618.4" y1="11.7" x2="627" y2="11.7" stroke="#333" stroke-width="0.9" />
<text x="633.4" y="10.9" font-family="'Liberation Sans', sans-serif" font-size="8.2" font-weight="bold" fill="#2a2a2a" text-anchor="start" font-style="italic" textLength="8.2" lengthAdjust="spacingAndGlyphs" >Z5</text>
<line x1="633.4" y1="11.7" x2="641.6" y2="11.7" stroke="#333" stroke-width="0.9" />
<text x="645.6" y="10.9" font-family="'Liberation Sans', sans-serif" font-size="8.2" font-weight="bold" fill="#2a2a2a" text-anchor="start" font-style="italic" textLength="9" lengthAdjust="spacingAndGlyphs" >Z4</text>
<line x1="645.6" y1="11.7" x2="654.6" y2="11.7" stroke="#333" stroke-width="0.9" />
<rect x="660" y="4" width="11.3" height="8.0" rx="1" fill="#eeeeee" stroke="#9a9a9a" stroke-width="1.0"/>
<text x="661.2" y="10.8" font-family="'Liberation Sans', sans-serif" font-size="8.2" font-weight="bold" fill="#2a2a2a" text-anchor="start" font-style="italic" textLength="8.9" lengthAdjust="spacingAndGlyphs" >Z3</text>
<rect x="674.6" y="4" width="10.9" height="8.0" rx="1" fill="#eeeeee" stroke="#9a9a9a" stroke-width="1.0"/>
<text x="675.8" y="10.8" font-family="'Liberation Sans', sans-serif" font-size="8.2" font-weight="bold" fill="#2a2a2a" text-anchor="start" font-style="italic" textLength="8.5" lengthAdjust="spacingAndGlyphs" >Z2</text>
<rect x="697.7" y="4" width="11.3" height="8.0" rx="1" fill="#eeeeee" stroke="#9a9a9a" stroke-width="1.0"/>
<text x="698.9" y="10.8" font-family="'Liberation Sans', sans-serif" font-size="8.2" font-weight="bold" fill="#2a2a2a" text-anchor="start" font-style="italic" textLength="8.9" lengthAdjust="spacingAndGlyphs" >Z1</text>
<line x1="404.9" y1="182" x2="733" y2="182" stroke="#707070" stroke-width="1.0" />
<line x1="405.4" y1="181.4" x2="405.4" y2="183.6" stroke="#555" stroke-width="1.0" />
<text x="406.4" y="190" font-family="'Liberation Sans', sans-serif" font-size="7.6000000000000005" font-weight="bold" fill="#1a1a1a" text-anchor="middle" textLength="3.8" lengthAdjust="spacingAndGlyphs" >0</text>
<line x1="426.96" y1="181.4" x2="426.96" y2="183.6" stroke="#555" stroke-width="1.0" />
<text x="426.96" y="189.6" font-family="'Liberation Sans', sans-serif" font-size="6.4" font-weight="bold" fill="#4a4a4a" text-anchor="middle" textLength="6" lengthAdjust="spacingAndGlyphs" >20</text>
<line x1="448.52" y1="181.4" x2="448.52" y2="183.6" stroke="#555" stroke-width="1.0" />
<text x="448.52" y="189.6" font-family="'Liberation Sans', sans-serif" font-size="6.4" font-weight="bold" fill="#4a4a4a" text-anchor="middle" textLength="6" lengthAdjust="spacingAndGlyphs" >40</text>
<line x1="470.08" y1="181.4" x2="470.08" y2="183.6" stroke="#555" stroke-width="1.0" />
<text x="470.08" y="189.6" font-family="'Liberation Sans', sans-serif" font-size="6.4" font-weight="bold" fill="#4a4a4a" text-anchor="middle" textLength="6" lengthAdjust="spacingAndGlyphs" >60</text>
<line x1="491.64" y1="181.4" x2="491.64" y2="183.6" stroke="#555" stroke-width="1.0" />
<text x="491.64" y="189.6" font-family="'Liberation Sans', sans-serif" font-size="6.4" font-weight="bold" fill="#4a4a4a" text-anchor="middle" textLength="6" lengthAdjust="spacingAndGlyphs" >80</text>
<line x1="513.2" y1="181.4" x2="513.2" y2="183.6" stroke="#555" stroke-width="1.0" />
<text x="513.2" y="189.6" font-family="'Liberation Sans', sans-serif" font-size="6.4" font-weight="bold" fill="#4a4a4a" text-anchor="middle" textLength="9" lengthAdjust="spacingAndGlyphs" >100</text>
<line x1="534.76" y1="181.4" x2="534.76" y2="183.6" stroke="#555" stroke-width="1.0" />
<text x="534.76" y="189.6" font-family="'Liberation Sans', sans-serif" font-size="6.4" font-weight="bold" fill="#4a4a4a" text-anchor="middle" textLength="9" lengthAdjust="spacingAndGlyphs" >120</text>
<line x1="556.32" y1="181.4" x2="556.32" y2="183.6" stroke="#555" stroke-width="1.0" />
<text x="556.32" y="189.6" font-family="'Liberation Sans', sans-serif" font-size="6.4" font-weight="bold" fill="#4a4a4a" text-anchor="middle" textLength="9" lengthAdjust="spacingAndGlyphs" >140</text>
<line x1="577.88" y1="181.4" x2="577.88" y2="183.6" stroke="#555" stroke-width="1.0" />
<text x="577.88" y="189.6" font-family="'Liberation Sans', sans-serif" font-size="6.4" font-weight="bold" fill="#4a4a4a" text-anchor="middle" textLength="9" lengthAdjust="spacingAndGlyphs" >160</text>
<line x1="599.44" y1="181.4" x2="599.44" y2="183.6" stroke="#555" stroke-width="1.0" />
<text x="599.44" y="189.6" font-family="'Liberation Sans', sans-serif" font-size="6.4" font-weight="bold" fill="#4a4a4a" text-anchor="middle" textLength="9" lengthAdjust="spacingAndGlyphs" >180</text>
<line x1="621" y1="181.4" x2="621" y2="183.6" stroke="#555" stroke-width="1.0" />
<text x="621" y="189.6" font-family="'Liberation Sans', sans-serif" font-size="6.4" font-weight="bold" fill="#4a4a4a" text-anchor="middle" textLength="9" lengthAdjust="spacingAndGlyphs" >200</text>
<line x1="642.56" y1="181.4" x2="642.56" y2="183.6" stroke="#555" stroke-width="1.0" />
<text x="642.56" y="189.6" font-family="'Liberation Sans', sans-serif" font-size="6.4" font-weight="bold" fill="#4a4a4a" text-anchor="middle" textLength="9" lengthAdjust="spacingAndGlyphs" >220</text>
<line x1="664.12" y1="181.4" x2="664.12" y2="183.6" stroke="#555" stroke-width="1.0" />
<text x="664.12" y="189.6" font-family="'Liberation Sans', sans-serif" font-size="6.4" font-weight="bold" fill="#4a4a4a" text-anchor="middle" textLength="9" lengthAdjust="spacingAndGlyphs" >240</text>
<line x1="685.68" y1="181.4" x2="685.68" y2="183.6" stroke="#555" stroke-width="1.0" />
<text x="685.68" y="189.6" font-family="'Liberation Sans', sans-serif" font-size="6.4" font-weight="bold" fill="#4a4a4a" text-anchor="middle" textLength="9" lengthAdjust="spacingAndGlyphs" >260</text>
<line x1="707.24" y1="181.4" x2="707.24" y2="183.6" stroke="#555" stroke-width="1.0" />
<text x="707.24" y="189.6" font-family="'Liberation Sans', sans-serif" font-size="6.4" font-weight="bold" fill="#4a4a4a" text-anchor="middle" textLength="9" lengthAdjust="spacingAndGlyphs" >280</text>
<line x1="728.8" y1="181.4" x2="728.8" y2="183.6" stroke="#555" stroke-width="1.0" />
<text x="728.8" y="189.6" font-family="'Liberation Sans', sans-serif" font-size="6.4" font-weight="bold" fill="#4a4a4a" text-anchor="middle" textLength="9" lengthAdjust="spacingAndGlyphs" >300</text>
<text x="409.2" y="25.8" font-family="'Liberation Serif', serif" font-size="8.6" font-weight="bold" fill="#111" text-anchor="start" textLength="45.6" lengthAdjust="spacingAndGlyphs"  stroke="#111" stroke-width="0.3">Hb A 52.5%</text>
<text x="409.2" y="36" font-family="'Liberation Serif', serif" font-size="8.6" font-weight="bold" fill="#111" text-anchor="start" textLength="62.3" lengthAdjust="spacingAndGlyphs"  stroke="#111" stroke-width="0.3">Hb F + Q 45.9%</text>
<text x="409.2" y="46.2" font-family="'Liberation Serif', serif" font-size="8.6" font-weight="bold" fill="#111" text-anchor="start" textLength="45" lengthAdjust="spacingAndGlyphs"  stroke="#111" stroke-width="0.3">Hb A<tspan font-size="6.02" dy="1.89">2</tspan><tspan dy="-1.89"> 0.8%</tspan></text>
<text x="409.2" y="56.4" font-family="'Liberation Serif', serif" font-size="8.6" font-weight="bold" fill="#111" text-anchor="start" textLength="46.2" lengthAdjust="spacingAndGlyphs"  stroke="#111" stroke-width="0.3">Hb CS 0.3%</text>
<text x="409.2" y="66.6" font-family="'Liberation Serif', serif" font-size="8.6" font-weight="bold" fill="#111" text-anchor="start" textLength="53.4" lengthAdjust="spacingAndGlyphs"  stroke="#111" stroke-width="0.3">Hb Q A<tspan font-size="6.02" dy="1.89">2</tspan><tspan dy="-1.89"> 0.5%</tspan></text>
<path d="M555,171.3 C555.33,171.13 556.35,170.92 557,170.3 C557.65,169.68 558.25,168.87 558.9,167.6 C559.55,166.33 560.4,165.82 560.9,162.7 C561.4,159.58 561.57,154.47 561.9,148.9 C562.23,143.33 562.58,137.45 562.9,129.3 C563.22,121.15 563.52,109.88 563.8,100 C564.08,90.12 564.35,78.33 564.6,70 C564.85,61.67 565.07,56.17 565.3,50 C565.53,43.83 565.73,37.6 566,33 C566.27,28.4 566.6,22.4 566.9,22.4 C567.2,22.4 567.52,28.4 567.8,33 C568.08,37.6 568.33,43 568.6,50 C568.87,57 569.08,67.5 569.4,75 C569.72,82.5 570.12,89.23 570.5,95 C570.88,100.77 571.17,103.88 571.7,109.6 C572.23,115.32 573.22,124.38 573.7,129.3 C574.18,134.22 574.12,135.83 574.6,139.1 C575.08,142.37 575.93,145.95 576.6,148.9 C577.27,151.85 577.78,154.5 578.6,156.8 C579.42,159.1 580.35,160.9 581.5,162.7 C582.65,164.5 584.42,166.45 585.5,167.6 C586.58,168.75 587.18,169.08 588,169.6 C588.82,170.12 590,170.52 590.4,170.7 Z" stroke="#111" stroke-width="0.7" fill="url(#hatch)" stroke-linejoin="round" />
<path d="M589.5,171 C589.93,170.93 591.13,170.97 592.1,170.6 C593.07,170.23 594.53,170.13 595.3,168.8 C596.07,167.47 596.25,165.37 596.7,162.6 C597.15,159.83 597.55,157.38 598,152.2 C598.45,147.02 599,141.87 599.4,131.5 C599.8,121.13 600.08,101.92 600.4,90 C600.72,78.08 601.02,69.17 601.3,60 C601.58,50.83 601.82,41.42 602.1,35 C602.38,28.58 602.7,21.5 603,21.5 C603.3,21.5 603.67,28.58 603.9,35 C604.13,41.42 604.22,50.83 604.4,60 C604.58,69.17 604.68,81.55 605,90 C605.32,98.45 605.85,103.78 606.3,110.7 C606.75,117.62 607.3,126.3 607.7,131.5 C608.1,136.7 608.25,138.45 608.7,141.9 C609.15,145.35 609.77,148.75 610.4,152.2 C611.03,155.65 611.8,159.83 612.5,162.6 C613.2,165.37 613.85,167.07 614.6,168.8 C615.35,170.53 615.9,171.75 617,173 C618.1,174.25 620.5,175.75 621.2,176.3 Z" stroke="#111" stroke-width="0.7" fill="url(#hatch)" stroke-linejoin="round" />
<path d="M406.5,181.4 C412.08,181.33 427.75,181.08 440,181 C452.25,180.92 470.83,181.03 480,180.9 C489.17,180.77 489.92,180.57 495,180.2 C500.08,179.83 505.5,179.23 510.5,178.7 C515.5,178.17 521.75,177.53 525,177 C528.25,176.47 528.55,176.13 530,175.5 C531.45,174.87 532.53,174.12 533.7,173.2 C534.87,172.28 535.98,170.78 537,170 C538.02,169.22 538.97,168.53 539.8,168.5 C540.63,168.47 541.13,169.32 542,169.8 C542.87,170.28 543.83,170.97 545,171.4 C546.17,171.83 547.67,172.27 549,172.4 C550.33,172.53 552,172.38 553,172.2 C554,172.02 554.67,171.45 555,171.3" stroke="#666" stroke-width="0.9" fill="none" stroke-linejoin="round" />
<path d="M621.2,176.3 C621.67,176.58 623.03,177.57 624,178 C624.97,178.43 625.17,178.65 627,178.9 C628.83,179.15 630.33,179.38 635,179.5 C639.67,179.62 650.27,179.6 655,179.6 C659.73,179.6 661.32,179.92 663.4,179.5 C665.48,179.08 666.22,177.1 667.5,177.1 C668.78,177.1 669.95,178.82 671.1,179.5 C672.25,180.18 673.33,181.22 674.4,181.2 C675.47,181.18 676.42,180.03 677.5,179.4 C678.58,178.77 679.8,177.58 680.9,177.4 C682,177.22 682.88,178.3 684.1,178.3 C685.32,178.3 686.83,177.07 688.2,177.4 C689.57,177.73 691.08,179.6 692.3,180.3 C693.52,181 692.55,181.35 695.5,181.6 C698.45,181.85 703.75,181.78 710,181.8 C716.25,181.82 729.17,181.72 733,181.7" stroke="#666" stroke-width="0.9" fill="none" stroke-linejoin="round" />
<path d="M663.4,179.8 L665.5,178.2 L667.5,176.9 L669.5,178.2 L671.3,179.8 Z" stroke="#111" stroke-width="0.7" fill="#151515" stroke-linejoin="round" stroke-linecap="round" />
<path d="M677.2,180 L679,178.2 L680.9,177.3 L682.5,178 L684.1,178.8 Z" stroke="#111" stroke-width="0.7" fill="#151515" stroke-linejoin="round" stroke-linecap="round" />
<path d="M684.6,178.9 L686.5,177.8 L688.2,177.2 L690.3,178.6 L692.2,180.2 Z" stroke="#111" stroke-width="0.7" fill="#151515" stroke-linejoin="round" stroke-linecap="round" />
<text x="578" y="29.8" font-family="'Liberation Serif', serif" font-size="8.6" font-weight="bold" fill="#111" text-anchor="start" textLength="19.4" lengthAdjust="spacingAndGlyphs"  stroke="#111" stroke-width="0.3">Hb A</text>
<path d="M578,27.8 L569.6,33.8" stroke="#111" stroke-width="1.8" fill="none" stroke-linejoin="round" stroke-linecap="round" />
<path d="M571.5,28 L569.6,33.8 L575.5,34.8" stroke="#111" stroke-width="1.8" fill="none" stroke-linejoin="round" stroke-linecap="round" />
<text x="614" y="24.6" font-family="'Liberation Serif', serif" font-size="8.6" font-weight="bold" fill="#111" text-anchor="start" textLength="32" lengthAdjust="spacingAndGlyphs"  stroke="#111" stroke-width="0.3">Hb F + Q</text>
<path d="M614,23.3 L605.6,28" stroke="#111" stroke-width="1.8" fill="none" stroke-linejoin="round" stroke-linecap="round" />
<path d="M607.3,22.6 L605.6,28 L611,29.4" stroke="#111" stroke-width="1.8" fill="none" stroke-linejoin="round" stroke-linecap="round" />
<text x="647.9" y="163.2" font-family="'Liberation Serif', serif" font-size="8.6" font-weight="bold" fill="#111" text-anchor="start" textLength="22.6" lengthAdjust="spacingAndGlyphs"  stroke="#111" stroke-width="0.3">Hb A<tspan font-size="6" dy="1.8">2</tspan></text>
<text x="672.2" y="163.2" font-family="'Liberation Serif', serif" font-size="8.6" font-weight="bold" fill="#111" text-anchor="start" textLength="24.5" lengthAdjust="spacingAndGlyphs"  stroke="#111" stroke-width="0.3">Hb CS</text>
<text x="700" y="173.4" font-family="'Liberation Serif', serif" font-size="8.6" font-weight="bold" fill="#111" text-anchor="start" textLength="30" lengthAdjust="spacingAndGlyphs"  stroke="#111" stroke-width="0.3">Hb QA<tspan font-size="6" dy="1.8">2</tspan></text>
<path d="M661,165.3 L666.7,174.6" stroke="#111" stroke-width="1.8" fill="none" stroke-linejoin="round" stroke-linecap="round" />
<path d="M661.6,171 L666.7,174.6 L666.9,168.6" stroke="#111" stroke-width="1.8" fill="none" stroke-linejoin="round" stroke-linecap="round" />
<path d="M680.9,164 L680.9,175.4" stroke="#111" stroke-width="1.8" fill="none" stroke-linejoin="round" stroke-linecap="round" />
<path d="M677.6,170.8 L680.9,175.4 L684.2,170.8" stroke="#111" stroke-width="1.8" fill="none" stroke-linejoin="round" stroke-linecap="round" />
<path d="M699.6,173 L691.9,176.3" stroke="#111" stroke-width="1.8" fill="none" stroke-linejoin="round" stroke-linecap="round" />
<path d="M695.3,171.6 L691.9,176.3 L698.8,177.2" stroke="#111" stroke-width="1.8" fill="none" stroke-linejoin="round" stroke-linecap="round" />
<rect x="402.3" y="231.2" width="332.3" height="202.1" fill="none" stroke="#8c8c8c" stroke-width="1.6"/>
<line x1="406.4" y1="232.5" x2="406.4" y2="431" stroke="#8a8a8a" stroke-width="1.0" stroke-dasharray="1.2 1.8"/>
<line x1="459.3" y1="232.5" x2="459.3" y2="431" stroke="#8a8a8a" stroke-width="1.0" stroke-dasharray="1.2 1.8"/>
<line x1="472.6" y1="232.5" x2="472.6" y2="431" stroke="#8a8a8a" stroke-width="1.0" stroke-dasharray="1.2 1.8"/>
<line x1="484.8" y1="232.5" x2="484.8" y2="431" stroke="#8a8a8a" stroke-width="1.0" stroke-dasharray="1.2 1.8"/>
<line x1="524.6" y1="232.5" x2="524.6" y2="431" stroke="#8a8a8a" stroke-width="1.0" stroke-dasharray="1.2 1.8"/>
<line x1="545" y1="232.5" x2="545" y2="431" stroke="#8a8a8a" stroke-width="1.0" stroke-dasharray="1.2 1.8"/>
<line x1="558.2" y1="232.5" x2="558.2" y2="431" stroke="#8a8a8a" stroke-width="1.0" stroke-dasharray="1.2 1.8"/>
<line x1="572.2" y1="232.5" x2="572.2" y2="431" stroke="#8a8a8a" stroke-width="1.0" stroke-dasharray="1.2 1.8"/>
<line x1="590" y1="232.5" x2="590" y2="431" stroke="#8a8a8a" stroke-width="1.0" stroke-dasharray="1.2 1.8"/>
<line x1="613.2" y1="232.5" x2="613.2" y2="431" stroke="#8a8a8a" stroke-width="1.0" stroke-dasharray="1.2 1.8"/>
<line x1="630.6" y1="232.5" x2="630.6" y2="431" stroke="#8a8a8a" stroke-width="1.0" stroke-dasharray="1.2 1.8"/>
<line x1="642.2" y1="232.5" x2="642.2" y2="431" stroke="#8a8a8a" stroke-width="1.0" stroke-dasharray="1.2 1.8"/>
<line x1="656.2" y1="232.5" x2="656.2" y2="431" stroke="#8a8a8a" stroke-width="1.0" stroke-dasharray="1.2 1.8"/>
<line x1="673" y1="232.5" x2="673" y2="431" stroke="#8a8a8a" stroke-width="1.0" stroke-dasharray="1.2 1.8"/>
<line x1="684.2" y1="232.5" x2="684.2" y2="431" stroke="#8a8a8a" stroke-width="1.0" stroke-dasharray="1.2 1.8"/>
<line x1="719.5" y1="232.5" x2="719.5" y2="431" stroke="#8a8a8a" stroke-width="1.0" stroke-dasharray="1.2 1.8"/>
<text x="425.8" y="241.3" font-family="'Liberation Sans', sans-serif" font-size="8.2" font-weight="bold" fill="#2a2a2a" text-anchor="start" font-style="italic" textLength="13.4" lengthAdjust="spacingAndGlyphs" >Z15</text>
<line x1="425.8" y1="242.1" x2="439.2" y2="242.1" stroke="#333" stroke-width="0.9" />
<text x="458.9" y="241.3" font-family="'Liberation Sans', sans-serif" font-size="8.2" font-weight="bold" fill="#2a2a2a" text-anchor="start" font-style="italic" textLength="13.1" lengthAdjust="spacingAndGlyphs" >Z14</text>
<line x1="458.9" y1="242.1" x2="472" y2="242.1" stroke="#333" stroke-width="0.9" />
<text x="472" y="241.3" font-family="'Liberation Sans', sans-serif" font-size="8.2" font-weight="bold" fill="#2a2a2a" text-anchor="start" font-style="italic" textLength="13.4" lengthAdjust="spacingAndGlyphs" >Z13</text>
<line x1="472" y1="242.1" x2="485.4" y2="242.1" stroke="#333" stroke-width="0.9" />
<text x="497.6" y="241.3" font-family="'Liberation Sans', sans-serif" font-size="8.2" font-weight="bold" fill="#2a2a2a" text-anchor="start" font-style="italic" textLength="13.8" lengthAdjust="spacingAndGlyphs" >Z12</text>
<line x1="497.6" y1="242.1" x2="511.4" y2="242.1" stroke="#333" stroke-width="0.9" />
<text x="528.2" y="241.3" font-family="'Liberation Sans', sans-serif" font-size="8.2" font-weight="bold" fill="#2a2a2a" text-anchor="start" font-style="italic" textLength="12.7" lengthAdjust="spacingAndGlyphs" >Z11</text>
<line x1="528.2" y1="242.1" x2="540.9" y2="242.1" stroke="#333" stroke-width="0.9" />
<text x="545" y="241.3" font-family="'Liberation Sans', sans-serif" font-size="8.2" font-weight="bold" fill="#2a2a2a" text-anchor="start" font-style="italic" textLength="13" lengthAdjust="spacingAndGlyphs" >Z10</text>
<line x1="545" y1="242.1" x2="558" y2="242.1" stroke="#333" stroke-width="0.9" />
<rect x="558.8" y="234.4" width="12.2" height="8.0" rx="1" fill="#eeeeee" stroke="#9a9a9a" stroke-width="1.0"/>
<text x="560" y="241.2" font-family="'Liberation Sans', sans-serif" font-size="8.2" font-weight="bold" fill="#2a2a2a" text-anchor="start" font-style="italic" textLength="9.8" lengthAdjust="spacingAndGlyphs" >Z9</text>
<text x="575.9" y="241.3" font-family="'Liberation Sans', sans-serif" font-size="8.2" font-weight="bold" fill="#2a2a2a" text-anchor="start" font-style="italic" textLength="9.7" lengthAdjust="spacingAndGlyphs" >Z8</text>
<line x1="575.9" y1="242.1" x2="585.6" y2="242.1" stroke="#333" stroke-width="0.9" />
<rect x="594.6" y="234.4" width="12.1" height="8.0" rx="1" fill="#eeeeee" stroke="#9a9a9a" stroke-width="1.0"/>
<text x="595.8" y="241.2" font-family="'Liberation Sans', sans-serif" font-size="8.2" font-weight="bold" fill="#2a2a2a" text-anchor="start" font-style="italic" textLength="9.7" lengthAdjust="spacingAndGlyphs" >Z7</text>
<text x="617.2" y="241.3" font-family="'Liberation Sans', sans-serif" font-size="8.2" font-weight="bold" fill="#2a2a2a" text-anchor="start" font-style="italic" textLength="9" lengthAdjust="spacingAndGlyphs" >Z6</text>
<line x1="617.2" y1="242.1" x2="626.2" y2="242.1" stroke="#333" stroke-width="0.9" />
<text x="630.8" y="241.3" font-family="'Liberation Sans', sans-serif" font-size="8.2" font-weight="bold" fill="#2a2a2a" text-anchor="start" font-style="italic" textLength="9.4" lengthAdjust="spacingAndGlyphs" >Z5</text>
<line x1="630.8" y1="242.1" x2="640.2" y2="242.1" stroke="#333" stroke-width="0.9" />
<text x="643.9" y="241.3" font-family="'Liberation Sans', sans-serif" font-size="8.2" font-weight="bold" fill="#2a2a2a" text-anchor="start" font-style="italic" textLength="9.4" lengthAdjust="spacingAndGlyphs" >Z4</text>
<line x1="643.9" y1="242.1" x2="653.3" y2="242.1" stroke="#333" stroke-width="0.9" />
<rect x="658" y="234.4" width="11.5" height="8.0" rx="1" fill="#eeeeee" stroke="#9a9a9a" stroke-width="1.0"/>
<text x="659.2" y="241.2" font-family="'Liberation Sans', sans-serif" font-size="8.2" font-weight="bold" fill="#2a2a2a" text-anchor="start" font-style="italic" textLength="9.1" lengthAdjust="spacingAndGlyphs" >Z3</text>
<rect x="672" y="234.4" width="11.2" height="8.0" rx="1" fill="#eeeeee" stroke="#9a9a9a" stroke-width="1.0"/>
<text x="673.2" y="241.2" font-family="'Liberation Sans', sans-serif" font-size="8.2" font-weight="bold" fill="#2a2a2a" text-anchor="start" font-style="italic" textLength="8.8" lengthAdjust="spacingAndGlyphs" >Z2</text>
<rect x="695.3" y="234.4" width="12.2" height="8.0" rx="1" fill="#eeeeee" stroke="#9a9a9a" stroke-width="1.0"/>
<text x="696.5" y="241.2" font-family="'Liberation Sans', sans-serif" font-size="8.2" font-weight="bold" fill="#2a2a2a" text-anchor="start" font-style="italic" textLength="9.8" lengthAdjust="spacingAndGlyphs" >Z1</text>
<line x1="404.7" y1="423.7" x2="732" y2="421.4" stroke="#8a8a8a" stroke-width="1.5" />
<line x1="405.2" y1="423.1" x2="405.2" y2="425.3" stroke="#555" stroke-width="1.0" />
<text x="406.2" y="432.2" font-family="'Liberation Sans', sans-serif" font-size="7.6000000000000005" font-weight="bold" fill="#1a1a1a" text-anchor="middle" textLength="3.8" lengthAdjust="spacingAndGlyphs" >0</text>
<line x1="426.75" y1="422.95" x2="426.75" y2="425.15" stroke="#555" stroke-width="1.0" />
<text x="426.75" y="431.65" font-family="'Liberation Sans', sans-serif" font-size="6.4" font-weight="bold" fill="#707070" text-anchor="middle" textLength="6" lengthAdjust="spacingAndGlyphs" >20</text>
<line x1="448.31" y1="422.8" x2="448.31" y2="425" stroke="#555" stroke-width="1.0" />
<text x="448.31" y="431.5" font-family="'Liberation Sans', sans-serif" font-size="6.4" font-weight="bold" fill="#707070" text-anchor="middle" textLength="6" lengthAdjust="spacingAndGlyphs" >40</text>
<line x1="469.86" y1="422.64" x2="469.86" y2="424.84" stroke="#555" stroke-width="1.0" />
<text x="469.86" y="431.34" font-family="'Liberation Sans', sans-serif" font-size="6.4" font-weight="bold" fill="#707070" text-anchor="middle" textLength="6" lengthAdjust="spacingAndGlyphs" >60</text>
<line x1="491.41" y1="422.49" x2="491.41" y2="424.69" stroke="#555" stroke-width="1.0" />
<text x="491.41" y="431.19" font-family="'Liberation Sans', sans-serif" font-size="6.4" font-weight="bold" fill="#707070" text-anchor="middle" textLength="6" lengthAdjust="spacingAndGlyphs" >80</text>
<line x1="512.97" y1="422.34" x2="512.97" y2="424.54" stroke="#555" stroke-width="1.0" />
<text x="512.97" y="431.04" font-family="'Liberation Sans', sans-serif" font-size="6.4" font-weight="bold" fill="#707070" text-anchor="middle" textLength="9" lengthAdjust="spacingAndGlyphs" >100</text>
<line x1="534.52" y1="422.19" x2="534.52" y2="424.39" stroke="#555" stroke-width="1.0" />
<text x="534.52" y="430.89" font-family="'Liberation Sans', sans-serif" font-size="6.4" font-weight="bold" fill="#707070" text-anchor="middle" textLength="9" lengthAdjust="spacingAndGlyphs" >120</text>
<line x1="556.07" y1="422.04" x2="556.07" y2="424.24" stroke="#555" stroke-width="1.0" />
<text x="556.07" y="430.74" font-family="'Liberation Sans', sans-serif" font-size="6.4" font-weight="bold" fill="#707070" text-anchor="middle" textLength="9" lengthAdjust="spacingAndGlyphs" >140</text>
<line x1="577.63" y1="421.89" x2="577.63" y2="424.09" stroke="#555" stroke-width="1.0" />
<text x="577.63" y="430.59" font-family="'Liberation Sans', sans-serif" font-size="6.4" font-weight="bold" fill="#707070" text-anchor="middle" textLength="9" lengthAdjust="spacingAndGlyphs" >160</text>
<line x1="599.18" y1="421.73" x2="599.18" y2="423.93" stroke="#555" stroke-width="1.0" />
<text x="599.18" y="430.43" font-family="'Liberation Sans', sans-serif" font-size="6.4" font-weight="bold" fill="#707070" text-anchor="middle" textLength="9" lengthAdjust="spacingAndGlyphs" >180</text>
<line x1="620.73" y1="421.58" x2="620.73" y2="423.78" stroke="#555" stroke-width="1.0" />
<text x="620.73" y="430.28" font-family="'Liberation Sans', sans-serif" font-size="6.4" font-weight="bold" fill="#707070" text-anchor="middle" textLength="9" lengthAdjust="spacingAndGlyphs" >200</text>
<line x1="642.29" y1="421.43" x2="642.29" y2="423.63" stroke="#555" stroke-width="1.0" />
<text x="642.29" y="430.13" font-family="'Liberation Sans', sans-serif" font-size="6.4" font-weight="bold" fill="#707070" text-anchor="middle" textLength="9" lengthAdjust="spacingAndGlyphs" >220</text>
<line x1="663.84" y1="421.28" x2="663.84" y2="423.48" stroke="#555" stroke-width="1.0" />
<text x="663.84" y="429.98" font-family="'Liberation Sans', sans-serif" font-size="6.4" font-weight="bold" fill="#707070" text-anchor="middle" textLength="9" lengthAdjust="spacingAndGlyphs" >240</text>
<line x1="685.39" y1="421.13" x2="685.39" y2="423.33" stroke="#555" stroke-width="1.0" />
<text x="685.39" y="429.83" font-family="'Liberation Sans', sans-serif" font-size="6.4" font-weight="bold" fill="#707070" text-anchor="middle" textLength="9" lengthAdjust="spacingAndGlyphs" >260</text>
<line x1="706.95" y1="420.98" x2="706.95" y2="423.18" stroke="#555" stroke-width="1.0" />
<text x="706.95" y="429.68" font-family="'Liberation Sans', sans-serif" font-size="6.4" font-weight="bold" fill="#707070" text-anchor="middle" textLength="9" lengthAdjust="spacingAndGlyphs" >280</text>
<line x1="728.5" y1="420.82" x2="728.5" y2="423.02" stroke="#555" stroke-width="1.0" />
<text x="728.5" y="429.52" font-family="'Liberation Sans', sans-serif" font-size="6.4" font-weight="bold" fill="#707070" text-anchor="middle" textLength="9" lengthAdjust="spacingAndGlyphs" >300</text>
<text x="410" y="263.1" font-family="'Liberation Serif', serif" font-size="8.6" font-weight="bold" fill="#111" text-anchor="start" textLength="42" lengthAdjust="spacingAndGlyphs"  stroke="#111" stroke-width="0.3">Hb A 56.3%</text>
<text x="410" y="273.5" font-family="'Liberation Serif', serif" font-size="8.6" font-weight="bold" fill="#111" text-anchor="start" textLength="57.7" lengthAdjust="spacingAndGlyphs"  stroke="#111" stroke-width="0.3">Hb F + Q 41.2%</text>
<text x="410" y="283.8" font-family="'Liberation Serif', serif" font-size="8.6" font-weight="bold" fill="#111" text-anchor="start" textLength="41.4" lengthAdjust="spacingAndGlyphs"  stroke="#111" stroke-width="0.3">Hb A<tspan font-size="6.02" dy="1.89">2</tspan><tspan dy="-1.89"> 1.4%</tspan></text>
<text x="410" y="294.3" font-family="'Liberation Serif', serif" font-size="8.6" font-weight="bold" fill="#111" text-anchor="start" textLength="43.6" lengthAdjust="spacingAndGlyphs"  stroke="#111" stroke-width="0.3">Hb CS 0.2%</text>
<text x="410" y="304.8" font-family="'Liberation Serif', serif" font-size="8.6" font-weight="bold" fill="#111" text-anchor="start" textLength="49.2" lengthAdjust="spacingAndGlyphs"  stroke="#111" stroke-width="0.3">Hb Q A<tspan font-size="6.02" dy="1.89">2</tspan><tspan dy="-1.89"> 0.9%</tspan></text>
<path d="M559.5,412.6 C559.68,411.67 560.23,409.75 560.6,407 C560.97,404.25 561.33,403.35 561.7,396.1 C562.07,388.85 562.43,376.18 562.8,363.5 C563.17,350.82 563.6,332.25 563.9,320 C564.2,307.75 564.42,298.33 564.6,290 C564.78,281.67 564.85,276.37 565,270 C565.15,263.63 565.3,251.8 565.5,251.8 C565.7,251.8 565.92,263.63 566.2,270 C566.48,276.37 566.85,284.17 567.2,290 C567.55,295.83 567.95,300 568.3,305 C568.65,310 568.88,313.88 569.3,320 C569.72,326.12 570.18,334.45 570.8,341.7 C571.42,348.95 572.42,358.07 573,363.5 C573.58,368.93 573.83,370.68 574.3,374.3 C574.77,377.92 575.18,381.57 575.8,385.2 C576.42,388.83 577.27,393.2 578,396.1 C578.73,399 579.3,400.78 580.2,402.6 C581.1,404.42 582.13,405.73 583.4,407 C584.67,408.27 586.78,409.33 587.8,410.2 C588.82,411.07 589.22,411.87 589.5,412.2 Z" stroke="#111" stroke-width="0.7" fill="url(#hatch)" stroke-linejoin="round" />
<path d="M590.2,415.4 C590.45,415.28 590.92,416.15 591.7,414.7 C592.48,413.25 594.03,410.15 594.9,406.7 C595.77,403.25 596.42,399.28 596.9,394 C597.38,388.72 597.43,383.43 597.8,375 C598.17,366.57 598.72,353.95 599.1,343.4 C599.48,332.85 599.82,319.27 600.1,311.7 C600.38,304.13 600.55,302.23 600.8,298 C601.05,293.77 601.3,286.3 601.6,286.3 C601.9,286.3 602.22,293.77 602.6,298 C602.98,302.23 603.37,304.13 603.9,311.7 C604.43,319.27 605.12,332.85 605.8,343.4 C606.48,353.95 607.22,366.57 608,375 C608.78,383.43 609.52,388.72 610.5,394 C611.48,399.28 612.53,403.25 613.9,406.7 C615.27,410.15 617.38,412.92 618.7,414.7 C620.02,416.48 621.28,416.95 621.8,417.4 Z" stroke="#111" stroke-width="0.7" fill="url(#hatch)" stroke-linejoin="round" />
<path d="M405.5,423.4 C411.25,423.27 427.18,422.95 440,422.6 C452.82,422.25 468.3,421.83 482.4,421.3 C496.5,420.77 515,419.92 524.6,419.4 C534.2,418.88 535.77,418.67 540,418.2 C544.23,417.73 547.5,417.07 550,416.6 C552.5,416.13 553.7,415.8 555,415.4 C556.3,415 557.05,414.67 557.8,414.2 C558.55,413.73 559.22,412.87 559.5,412.6" stroke="#666" stroke-width="0.9" fill="none" stroke-linejoin="round" />
<path d="M589.5,412.2 C589.67,412.6 590.2,414.18 590.5,414.6 C590.8,415.02 591.17,414.68 591.3,414.7" stroke="#666" stroke-width="0.9" fill="none" stroke-linejoin="round" />
<path d="M621.4,417.4 C621.88,417.77 622.03,419.12 624.3,419.6 C626.57,420.08 630.72,420.15 635,420.3 C639.28,420.45 645.67,420.48 650,420.5 C654.33,420.52 658.67,420.65 661,420.4 C663.33,420.15 663.12,419.73 664,419 C664.88,418.27 665.55,416.08 666.3,416 C667.05,415.92 667.63,417.73 668.5,418.5 C669.37,419.27 670.58,420.22 671.5,420.6 C672.42,420.98 673.08,420.98 674,420.8 C674.92,420.62 676.08,419.87 677,419.5 C677.92,419.13 678.67,418.62 679.5,418.6 C680.33,418.58 681.17,419.45 682,419.4 C682.83,419.35 683.63,418.83 684.5,418.3 C685.37,417.77 686.28,416.17 687.2,416.2 C688.12,416.23 689.03,417.77 690,418.5 C690.97,419.23 691.33,420.18 693,420.6 C694.67,421.02 693.33,420.9 700,421 C706.67,421.1 727.5,421.17 733,421.2" stroke="#666" stroke-width="0.9" fill="none" stroke-linejoin="round" />
<path d="M661.5,420.2 L664,418.6 L666.3,415.8 L668.6,418.5 L671,420.4 Z" stroke="#111" stroke-width="0.7" fill="#151515" stroke-linejoin="round" stroke-linecap="round" />
<path d="M676,420.3 L678.2,419 L680.2,418.4 L682.3,419.6 Z" stroke="#111" stroke-width="0.7" fill="#151515" stroke-linejoin="round" stroke-linecap="round" />
<path d="M683.8,420.3 L685.5,418.2 L687.2,416 L689.3,418.2 L691.5,420.4 Z" stroke="#111" stroke-width="0.7" fill="#151515" stroke-linejoin="round" stroke-linecap="round" />
<text x="577.3" y="253.7" font-family="'Liberation Serif', serif" font-size="8.6" font-weight="bold" fill="#111" text-anchor="start" textLength="17.6" lengthAdjust="spacingAndGlyphs"  stroke="#111" stroke-width="0.3">Hb A</text>
<path d="M577.2,254.6 L568.2,258.2" stroke="#111" stroke-width="1.8" fill="none" stroke-linejoin="round" stroke-linecap="round" />
<path d="M571.2,252.6 L568.2,258.2 L574.4,259.8" stroke="#111" stroke-width="1.8" fill="none" stroke-linejoin="round" stroke-linecap="round" />
<text x="609.6" y="278.2" font-family="'Liberation Serif', serif" font-size="8.6" font-weight="bold" fill="#111" text-anchor="start" textLength="35" lengthAdjust="spacingAndGlyphs"  stroke="#111" stroke-width="0.3">Hb F + Q</text>
<path d="M609.6,281 L603.2,286.3" stroke="#111" stroke-width="1.8" fill="none" stroke-linejoin="round" stroke-linecap="round" />
<path d="M603.8,280.4 L603.2,286.3 L607.8,286.8" stroke="#111" stroke-width="1.8" fill="none" stroke-linejoin="round" stroke-linecap="round" />
<text x="648.4" y="403.6" font-family="'Liberation Serif', serif" font-size="8.6" font-weight="bold" fill="#111" text-anchor="start" textLength="21.2" lengthAdjust="spacingAndGlyphs"  stroke="#111" stroke-width="0.3">Hb A<tspan font-size="6" dy="1.8">2</tspan></text>
<text x="671.6" y="403.5" font-family="'Liberation Serif', serif" font-size="8.6" font-weight="bold" fill="#111" text-anchor="start" textLength="22.9" lengthAdjust="spacingAndGlyphs"  stroke="#111" stroke-width="0.3">Hb CS</text>
<text x="700" y="412" font-family="'Liberation Serif', serif" font-size="8.6" font-weight="bold" fill="#111" text-anchor="start" textLength="28.3" lengthAdjust="spacingAndGlyphs"  stroke="#111" stroke-width="0.3">Hb QA<tspan font-size="6" dy="1.8">2</tspan></text>
<path d="M661,404.8 L666,415" stroke="#111" stroke-width="1.8" fill="none" stroke-linejoin="round" stroke-linecap="round" />
<path d="M660.9,411 L666,415 L666.8,408.6" stroke="#111" stroke-width="1.8" fill="none" stroke-linejoin="round" stroke-linecap="round" />
<path d="M680.2,404.8 L680.2,416.2" stroke="#111" stroke-width="1.8" fill="none" stroke-linejoin="round" stroke-linecap="round" />
<path d="M676.8,411.4 L680.2,416.2 L683.6,411.4" stroke="#111" stroke-width="1.8" fill="none" stroke-linejoin="round" stroke-linecap="round" />
<path d="M699,411.4 L689.8,416.6" stroke="#111" stroke-width="1.8" fill="none" stroke-linejoin="round" stroke-linecap="round" />
<path d="M693.6,410.6 L689.8,416.6 L697.6,417" stroke="#111" stroke-width="1.8" fill="none" stroke-linejoin="round" stroke-linecap="round" />
<text x="-1.3" y="11.7" font-family="'Liberation Sans', sans-serif" font-size="16" font-weight="bold" fill="#0a0a0a" text-anchor="start" textLength="23.6" lengthAdjust="spacingAndGlyphs" >(A)</text>
<text x="374.9" y="11.7" font-family="'Liberation Sans', sans-serif" font-size="16" font-weight="bold" fill="#0a0a0a" text-anchor="start" textLength="23.6" lengthAdjust="spacingAndGlyphs" >(B)</text>
<text x="0.3" y="241.1" font-family="'Liberation Sans', sans-serif" font-size="16" font-weight="bold" fill="#0a0a0a" text-anchor="start" textLength="23.8" lengthAdjust="spacingAndGlyphs" >(C)</text>
<text x="375.5" y="241.1" font-family="'Liberation Sans', sans-serif" font-size="16" font-weight="bold" fill="#0a0a0a" text-anchor="start" textLength="23.6" lengthAdjust="spacingAndGlyphs" >(D)</text>
</svg></body></html>
